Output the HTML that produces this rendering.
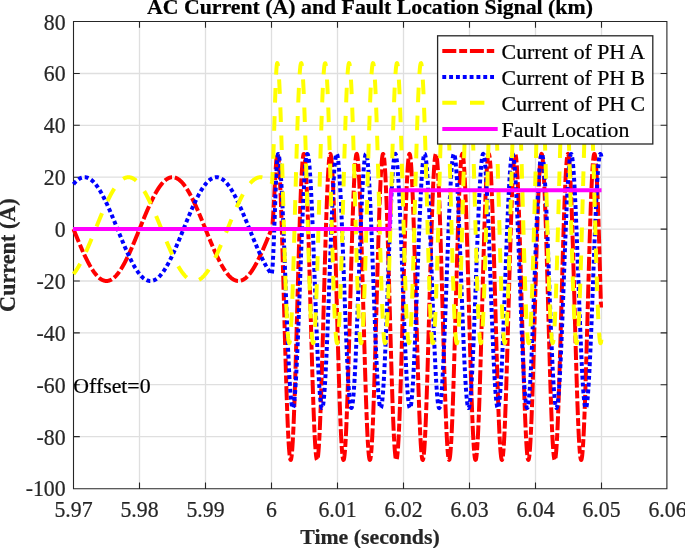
<!DOCTYPE html>
<html><head><meta charset="utf-8"><style>
html,body{margin:0;padding:0;background:#fff;overflow:hidden}
svg{display:block;will-change:transform}
text{font-family:"Liberation Serif",serif;stroke-width:0.22px}
</style></head><body>
<svg width="685" height="548" viewBox="0 0 685 548">
<rect x="0" y="0" width="685" height="548" fill="#fff"/>
<path d="M139.5 21.5V488.5 M205.5 21.5V488.5 M271.5 21.5V488.5 M337.5 21.5V488.5 M403.5 21.5V488.5 M469.5 21.5V488.5 M535.5 21.5V488.5 M601.5 21.5V488.5 M73.5 73.5H667.5 M73.5 125.3H667.5 M73.5 177.2H667.5 M73.5 229.1H667.5 M73.5 281.0H667.5 M73.5 332.9H667.5 M73.5 384.7H667.5 M73.5 436.6H667.5" stroke="#262626" stroke-opacity="0.15" stroke-width="1.3" fill="none"/>
<path d="M73.5 21.5H666.9V488.8H73.5Z M139.5 488.8v-6.3M139.5 21.5v6.3 M205.5 488.8v-6.3M205.5 21.5v6.3 M271.5 488.8v-6.3M271.5 21.5v6.3 M337.5 488.8v-6.3M337.5 21.5v6.3 M403.5 488.8v-6.3M403.5 21.5v6.3 M469.5 488.8v-6.3M469.5 21.5v6.3 M535.5 488.8v-6.3M535.5 21.5v6.3 M601.5 488.8v-6.3M601.5 21.5v6.3 M73.5 73.5h6.3M666.9 73.5h-6.3 M73.5 125.3h6.3M666.9 125.3h-6.3 M73.5 177.2h6.3M666.9 177.2h-6.3 M73.5 229.1h6.3M666.9 229.1h-6.3 M73.5 281.0h6.3M666.9 281.0h-6.3 M73.5 332.9h6.3M666.9 332.9h-6.3 M73.5 384.7h6.3M666.9 384.7h-6.3 M73.5 436.6h6.3M666.9 436.6h-6.3" stroke="#262626" stroke-width="1.1" fill="none"/>
<g fill="none" stroke-width="4" stroke-linejoin="round">
<path d="M73.50 229.10 L73.75 229.72 L74.00 230.33 L74.25 230.95 L74.50 231.57 L74.75 232.19 L75.00 232.80 L75.25 233.42 L75.50 234.03 L75.75 234.65 L76.00 235.26 L76.25 235.87 L76.50 236.48 L76.75 237.09 L77.00 237.70 L77.25 238.31 L77.50 238.92 L77.75 239.52 L78.00 240.13 L78.25 240.73 L78.50 241.33 L78.75 241.93 L79.00 242.53 L79.25 243.12 L79.50 243.72 L79.75 244.31 L80.00 244.90 L80.25 245.48 L80.50 246.07 L80.75 246.65 L81.00 247.23 L81.25 247.81 L81.50 248.38 L81.75 248.95 L82.00 249.52 L82.25 250.09 L82.50 250.65 L82.75 251.21 L83.00 251.77 L83.25 252.32 L83.50 252.87 L83.75 253.42 L84.00 253.96 L84.25 254.50 L84.50 255.04 L84.75 255.57 L85.00 256.10 L85.25 256.63 L85.50 257.15 L85.75 257.67 L86.00 258.18 L86.25 258.69 L86.50 259.19 L86.75 259.69 L87.00 260.19 L87.25 260.68 L87.50 261.17 L87.75 261.65 L88.00 262.13 L88.25 262.61 L88.50 263.07 L88.75 263.54 L89.00 264.00 L89.25 264.45 L89.50 264.90 L89.75 265.35 L90.00 265.78 L90.25 266.22 L90.50 266.65 L90.75 267.07 L91.00 267.49 L91.25 267.90 L91.50 268.31 L91.75 268.71 L92.00 269.11 L92.25 269.50 L92.50 269.88 L92.75 270.26 L93.00 270.63 L93.25 271.00 L93.50 271.36 L93.75 271.72 L94.00 272.06 L94.25 272.41 L94.50 272.74 L94.75 273.07 L95.00 273.40 L95.25 273.72 L95.50 274.03 L95.75 274.33 L96.00 274.63 L96.25 274.93 L96.50 275.21 L96.75 275.49 L97.00 275.77 L97.25 276.03 L97.50 276.29 L97.75 276.54 L98.00 276.79 L98.25 277.03 L98.50 277.26 L98.75 277.49 L99.00 277.71 L99.25 277.92 L99.50 278.13 L99.75 278.33 L100.00 278.52 L100.25 278.70 L100.50 278.88 L100.75 279.05 L101.00 279.21 L101.25 279.37 L101.50 279.52 L101.75 279.66 L102.00 279.79 L102.25 279.92 L102.50 280.04 L102.75 280.16 L103.00 280.26 L103.25 280.36 L103.50 280.45 L103.75 280.54 L104.00 280.61 L104.25 280.68 L104.50 280.75 L104.75 280.80 L105.00 280.85 L105.25 280.89 L105.50 280.92 L105.75 280.95 L106.00 280.97 L106.25 280.98 L106.50 280.98 L106.75 280.98 L107.00 280.97 L107.25 280.95 L107.50 280.92 L107.75 280.89 L108.00 280.85 L108.25 280.80 L108.50 280.75 L108.75 280.68 L109.00 280.61 L109.25 280.54 L109.50 280.45 L109.75 280.36 L110.00 280.26 L110.25 280.16 L110.50 280.04 L110.75 279.92 L111.00 279.79 L111.25 279.66 L111.50 279.52 L111.75 279.37 L112.00 279.21 L112.25 279.05 L112.50 278.88 L112.75 278.70 L113.00 278.52 L113.25 278.33 L113.50 278.13 L113.75 277.92 L114.00 277.71 L114.25 277.49 L114.50 277.26 L114.75 277.03 L115.00 276.79 L115.25 276.54 L115.50 276.29 L115.75 276.03 L116.00 275.77 L116.25 275.49 L116.50 275.21 L116.75 274.93 L117.00 274.63 L117.25 274.33 L117.50 274.03 L117.75 273.72 L118.00 273.40 L118.25 273.07 L118.50 272.74 L118.75 272.41 L119.00 272.06 L119.25 271.72 L119.50 271.36 L119.75 271.00 L120.00 270.63 L120.25 270.26 L120.50 269.88 L120.75 269.50 L121.00 269.11 L121.25 268.71 L121.50 268.31 L121.75 267.90 L122.00 267.49 L122.25 267.07 L122.50 266.65 L122.75 266.22 L123.00 265.78 L123.25 265.35 L123.50 264.90 L123.75 264.45 L124.00 264.00 L124.25 263.54 L124.50 263.07 L124.75 262.61 L125.00 262.13 L125.25 261.65 L125.50 261.17 L125.75 260.68 L126.00 260.19 L126.25 259.69 L126.50 259.19 L126.75 258.69 L127.00 258.18 L127.25 257.67 L127.50 257.15 L127.75 256.63 L128.00 256.10 L128.25 255.57 L128.50 255.04 L128.75 254.50 L129.00 253.96 L129.25 253.42 L129.50 252.87 L129.75 252.32 L130.00 251.77 L130.25 251.21 L130.50 250.65 L130.75 250.09 L131.00 249.52 L131.25 248.95 L131.50 248.38 L131.75 247.81 L132.00 247.23 L132.25 246.65 L132.50 246.07 L132.75 245.48 L133.00 244.90 L133.25 244.31 L133.50 243.72 L133.75 243.12 L134.00 242.53 L134.25 241.93 L134.50 241.33 L134.75 240.73 L135.00 240.13 L135.25 239.52 L135.50 238.92 L135.75 238.31 L136.00 237.70 L136.25 237.09 L136.50 236.48 L136.75 235.87 L137.00 235.26 L137.25 234.65 L137.50 234.03 L137.75 233.42 L138.00 232.80 L138.25 232.19 L138.50 231.57 L138.75 230.95 L139.00 230.33 L139.25 229.72 L139.50 229.10 L139.75 228.48 L140.00 227.87 L140.25 227.25 L140.50 226.63 L140.75 226.01 L141.00 225.40 L141.25 224.78 L141.50 224.17 L141.75 223.55 L142.00 222.94 L142.25 222.33 L142.50 221.72 L142.75 221.11 L143.00 220.50 L143.25 219.89 L143.50 219.28 L143.75 218.68 L144.00 218.07 L144.25 217.47 L144.50 216.87 L144.75 216.27 L145.00 215.67 L145.25 215.08 L145.50 214.48 L145.75 213.89 L146.00 213.30 L146.25 212.72 L146.50 212.13 L146.75 211.55 L147.00 210.97 L147.25 210.39 L147.50 209.82 L147.75 209.25 L148.00 208.68 L148.25 208.11 L148.50 207.55 L148.75 206.99 L149.00 206.43 L149.25 205.88 L149.50 205.33 L149.75 204.78 L150.00 204.24 L150.25 203.70 L150.50 203.16 L150.75 202.63 L151.00 202.10 L151.25 201.57 L151.50 201.05 L151.75 200.53 L152.00 200.02 L152.25 199.51 L152.50 199.01 L152.75 198.51 L153.00 198.01 L153.25 197.52 L153.50 197.03 L153.75 196.55 L154.00 196.07 L154.25 195.59 L154.50 195.13 L154.75 194.66 L155.00 194.20 L155.25 193.75 L155.50 193.30 L155.75 192.85 L156.00 192.42 L156.25 191.98 L156.50 191.55 L156.75 191.13 L157.00 190.71 L157.25 190.30 L157.50 189.89 L157.75 189.49 L158.00 189.09 L158.25 188.70 L158.50 188.32 L158.75 187.94 L159.00 187.57 L159.25 187.20 L159.50 186.84 L159.75 186.48 L160.00 186.14 L160.25 185.79 L160.50 185.46 L160.75 185.13 L161.00 184.80 L161.25 184.48 L161.50 184.17 L161.75 183.87 L162.00 183.57 L162.25 183.27 L162.50 182.99 L162.75 182.71 L163.00 182.43 L163.25 182.17 L163.50 181.91 L163.75 181.66 L164.00 181.41 L164.25 181.17 L164.50 180.94 L164.75 180.71 L165.00 180.49 L165.25 180.28 L165.50 180.07 L165.75 179.87 L166.00 179.68 L166.25 179.50 L166.50 179.32 L166.75 179.15 L167.00 178.99 L167.25 178.83 L167.50 178.68 L167.75 178.54 L168.00 178.41 L168.25 178.28 L168.50 178.16 L168.75 178.04 L169.00 177.94 L169.25 177.84 L169.50 177.75 L169.75 177.66 L170.00 177.59 L170.25 177.52 L170.50 177.45 L170.75 177.40 L171.00 177.35 L171.25 177.31 L171.50 177.28 L171.75 177.25 L172.00 177.23 L172.25 177.22 L172.50 177.22 L172.75 177.22 L173.00 177.23 L173.25 177.25 L173.50 177.28 L173.75 177.31 L174.00 177.35 L174.25 177.40 L174.50 177.45 L174.75 177.52 L175.00 177.59 L175.25 177.66 L175.50 177.75 L175.75 177.84 L176.00 177.94 L176.25 178.04 L176.50 178.16 L176.75 178.28 L177.00 178.41 L177.25 178.54 L177.50 178.68 L177.75 178.83 L178.00 178.99 L178.25 179.15 L178.50 179.32 L178.75 179.50 L179.00 179.68 L179.25 179.87 L179.50 180.07 L179.75 180.28 L180.00 180.49 L180.25 180.71 L180.50 180.94 L180.75 181.17 L181.00 181.41 L181.25 181.66 L181.50 181.91 L181.75 182.17 L182.00 182.43 L182.25 182.71 L182.50 182.99 L182.75 183.27 L183.00 183.57 L183.25 183.87 L183.50 184.17 L183.75 184.48 L184.00 184.80 L184.25 185.13 L184.50 185.46 L184.75 185.79 L185.00 186.14 L185.25 186.48 L185.50 186.84 L185.75 187.20 L186.00 187.57 L186.25 187.94 L186.50 188.32 L186.75 188.70 L187.00 189.09 L187.25 189.49 L187.50 189.89 L187.75 190.30 L188.00 190.71 L188.25 191.13 L188.50 191.55 L188.75 191.98 L189.00 192.42 L189.25 192.85 L189.50 193.30 L189.75 193.75 L190.00 194.20 L190.25 194.66 L190.50 195.13 L190.75 195.59 L191.00 196.07 L191.25 196.55 L191.50 197.03 L191.75 197.52 L192.00 198.01 L192.25 198.51 L192.50 199.01 L192.75 199.51 L193.00 200.02 L193.25 200.53 L193.50 201.05 L193.75 201.57 L194.00 202.10 L194.25 202.63 L194.50 203.16 L194.75 203.70 L195.00 204.24 L195.25 204.78 L195.50 205.33 L195.75 205.88 L196.00 206.43 L196.25 206.99 L196.50 207.55 L196.75 208.11 L197.00 208.68 L197.25 209.25 L197.50 209.82 L197.75 210.39 L198.00 210.97 L198.25 211.55 L198.50 212.13 L198.75 212.72 L199.00 213.30 L199.25 213.89 L199.50 214.48 L199.75 215.08 L200.00 215.67 L200.25 216.27 L200.50 216.87 L200.75 217.47 L201.00 218.07 L201.25 218.68 L201.50 219.28 L201.75 219.89 L202.00 220.50 L202.25 221.11 L202.50 221.72 L202.75 222.33 L203.00 222.94 L203.25 223.55 L203.50 224.17 L203.75 224.78 L204.00 225.40 L204.25 226.01 L204.50 226.63 L204.75 227.25 L205.00 227.87 L205.25 228.48 L205.50 229.10 L205.75 229.72 L206.00 230.33 L206.25 230.95 L206.50 231.57 L206.75 232.19 L207.00 232.80 L207.25 233.42 L207.50 234.03 L207.75 234.65 L208.00 235.26 L208.25 235.87 L208.50 236.48 L208.75 237.09 L209.00 237.70 L209.25 238.31 L209.50 238.92 L209.75 239.52 L210.00 240.13 L210.25 240.73 L210.50 241.33 L210.75 241.93 L211.00 242.53 L211.25 243.12 L211.50 243.72 L211.75 244.31 L212.00 244.90 L212.25 245.48 L212.50 246.07 L212.75 246.65 L213.00 247.23 L213.25 247.81 L213.50 248.38 L213.75 248.95 L214.00 249.52 L214.25 250.09 L214.50 250.65 L214.75 251.21 L215.00 251.77 L215.25 252.32 L215.50 252.87 L215.75 253.42 L216.00 253.96 L216.25 254.50 L216.50 255.04 L216.75 255.57 L217.00 256.10 L217.25 256.63 L217.50 257.15 L217.75 257.67 L218.00 258.18 L218.25 258.69 L218.50 259.19 L218.75 259.69 L219.00 260.19 L219.25 260.68 L219.50 261.17 L219.75 261.65 L220.00 262.13 L220.25 262.61 L220.50 263.07 L220.75 263.54 L221.00 264.00 L221.25 264.45 L221.50 264.90 L221.75 265.35 L222.00 265.78 L222.25 266.22 L222.50 266.65 L222.75 267.07 L223.00 267.49 L223.25 267.90 L223.50 268.31 L223.75 268.71 L224.00 269.11 L224.25 269.50 L224.50 269.88 L224.75 270.26 L225.00 270.63 L225.25 271.00 L225.50 271.36 L225.75 271.72 L226.00 272.06 L226.25 272.41 L226.50 272.74 L226.75 273.07 L227.00 273.40 L227.25 273.72 L227.50 274.03 L227.75 274.33 L228.00 274.63 L228.25 274.93 L228.50 275.21 L228.75 275.49 L229.00 275.77 L229.25 276.03 L229.50 276.29 L229.75 276.54 L230.00 276.79 L230.25 277.03 L230.50 277.26 L230.75 277.49 L231.00 277.71 L231.25 277.92 L231.50 278.13 L231.75 278.33 L232.00 278.52 L232.25 278.70 L232.50 278.88 L232.75 279.05 L233.00 279.21 L233.25 279.37 L233.50 279.52 L233.75 279.66 L234.00 279.79 L234.25 279.92 L234.50 280.04 L234.75 280.16 L235.00 280.26 L235.25 280.36 L235.50 280.45 L235.75 280.54 L236.00 280.61 L236.25 280.68 L236.50 280.75 L236.75 280.80 L237.00 280.85 L237.25 280.89 L237.50 280.92 L237.75 280.95 L238.00 280.97 L238.25 280.98 L238.50 280.98 L238.75 280.98 L239.00 280.97 L239.25 280.95 L239.50 280.92 L239.75 280.89 L240.00 280.85 L240.25 280.80 L240.50 280.75 L240.75 280.68 L241.00 280.61 L241.25 280.54 L241.50 280.45 L241.75 280.36 L242.00 280.26 L242.25 280.16 L242.50 280.04 L242.75 279.92 L243.00 279.79 L243.25 279.66 L243.50 279.52 L243.75 279.37 L244.00 279.21 L244.25 279.05 L244.50 278.88 L244.75 278.70 L245.00 278.52 L245.25 278.33 L245.50 278.13 L245.75 277.92 L246.00 277.71 L246.25 277.49 L246.50 277.26 L246.75 277.03 L247.00 276.79 L247.25 276.54 L247.50 276.29 L247.75 276.03 L248.00 275.77 L248.25 275.49 L248.50 275.21 L248.75 274.93 L249.00 274.63 L249.25 274.33 L249.50 274.03 L249.75 273.72 L250.00 273.40 L250.25 273.07 L250.50 272.74 L250.75 272.41 L251.00 272.06 L251.25 271.72 L251.50 271.36 L251.75 271.00 L252.00 270.63 L252.25 270.26 L252.50 269.88 L252.75 269.50 L253.00 269.11 L253.25 268.71 L253.50 268.31 L253.75 267.90 L254.00 267.49 L254.25 267.07 L254.50 266.65 L254.75 266.22 L255.00 265.78 L255.25 265.35 L255.50 264.90 L255.75 264.45 L256.00 264.00 L256.25 263.54 L256.50 263.07 L256.75 262.61 L257.00 262.13 L257.25 261.65 L257.50 261.17 L257.75 260.68 L258.00 260.19 L258.25 259.69 L258.50 259.19 L258.75 258.69 L259.00 258.18 L259.25 257.67 L259.50 257.15 L259.75 256.63 L260.00 256.10 L260.25 255.57 L260.50 255.04 L260.75 254.50 L261.00 253.96 L261.25 253.42 L261.50 252.87 L261.75 252.32 L262.00 251.77 L262.25 251.21 L262.50 250.65 L262.75 250.09 L263.00 249.52 L263.25 248.95 L263.50 248.38 L263.75 247.81 L264.00 247.23 L264.25 246.65 L264.50 246.07 L264.75 245.48 L265.00 244.90 L265.25 244.31 L265.50 243.72 L265.75 243.12 L266.00 242.53 L266.25 241.93 L266.50 241.33 L266.75 240.73 L267.00 240.13 L267.25 239.52 L267.50 238.92 L267.75 238.31 L268.00 237.70 L268.25 237.09 L268.50 236.48 L268.75 235.87 L269.00 235.26 L269.25 234.65 L269.50 234.03 L269.75 233.42 L270.00 232.80 L270.25 232.19 L270.50 231.57 L270.75 230.95 L271.00 230.33 L271.25 229.72 L271.50 229.10 L271.75 228.77 L272.00 227.80 L272.25 226.20 L272.50 223.99 L272.75 221.23 L273.00 217.94 L273.25 214.20 L273.50 210.06 L273.75 205.61 L274.00 200.90 L274.25 196.04 L274.50 191.09 L274.75 186.15 L275.00 181.31 L275.25 176.64 L275.50 172.22 L275.75 168.15 L276.00 164.47 L276.25 161.27 L276.50 158.59 L276.75 156.48 L277.00 154.97 L277.25 154.10 L277.50 153.88 L277.75 154.24 L278.00 155.14 L278.25 156.57 L278.50 158.53 L278.75 161.03 L279.00 164.03 L279.25 167.54 L279.50 171.55 L279.75 176.03 L280.00 180.98 L280.25 186.37 L280.50 192.19 L280.75 198.41 L281.00 205.02 L281.25 211.99 L281.50 219.29 L281.75 226.90 L282.00 234.80 L282.25 242.95 L282.50 251.33 L282.75 259.90 L283.00 268.64 L283.25 277.52 L283.50 286.50 L283.75 295.55 L284.00 304.64 L284.25 313.74 L284.50 322.82 L284.75 331.84 L285.00 340.77 L285.25 349.59 L285.50 358.25 L285.75 366.73 L286.00 374.99 L286.25 383.02 L286.50 390.78 L286.75 398.24 L287.00 405.38 L287.25 412.17 L287.50 418.59 L287.75 424.61 L288.00 430.22 L288.25 435.39 L288.50 440.11 L288.75 444.36 L289.00 448.11 L289.25 451.38 L289.50 454.13 L289.75 456.35 L290.00 458.05 L290.25 459.22 L290.50 459.85 L290.75 459.93 L291.00 459.48 L291.25 458.49 L291.50 456.96 L291.75 454.90 L292.00 452.31 L292.25 449.21 L292.50 445.61 L292.75 441.52 L293.00 436.95 L293.25 431.92 L293.50 426.45 L293.75 420.56 L294.00 414.27 L294.25 407.59 L294.50 400.56 L294.75 393.20 L295.00 385.54 L295.25 377.59 L295.50 369.40 L295.75 360.98 L296.00 352.37 L296.25 343.61 L296.50 334.71 L296.75 325.72 L297.00 316.65 L297.25 307.56 L297.50 298.46 L297.75 289.39 L298.00 280.38 L298.25 271.47 L298.50 262.68 L298.75 254.05 L299.00 245.61 L299.25 237.38 L299.50 229.40 L299.75 221.69 L300.00 214.29 L300.25 207.21 L300.50 200.48 L300.75 194.14 L301.00 188.19 L301.25 182.66 L301.50 177.56 L301.75 172.93 L302.00 168.77 L302.25 165.10 L302.50 161.93 L302.75 159.28 L303.00 157.14 L303.25 155.54 L303.50 154.47 L303.75 153.94 L304.00 153.95 L304.25 154.50 L304.50 155.59 L304.75 157.22 L305.00 159.37 L305.25 162.05 L305.50 165.24 L305.75 168.93 L306.00 173.11 L306.25 177.76 L306.50 182.87 L306.75 188.42 L307.00 194.38 L307.25 200.75 L307.50 207.49 L307.75 214.58 L308.00 222.00 L308.25 229.71 L308.50 237.71 L308.75 245.94 L309.00 254.39 L309.25 263.03 L309.50 271.83 L309.75 280.74 L310.00 289.75 L310.25 298.82 L310.50 307.92 L310.75 317.02 L311.00 326.08 L311.25 335.07 L311.50 343.96 L311.75 352.72 L312.00 361.32 L312.25 369.73 L312.50 377.91 L312.75 385.85 L313.00 393.50 L313.25 400.85 L313.50 407.87 L313.75 414.53 L314.00 420.81 L314.25 426.68 L314.50 432.13 L314.75 437.14 L315.00 441.69 L315.25 445.77 L315.50 449.35 L315.75 452.42 L316.00 454.99 L316.25 457.03 L316.50 458.54 L316.75 459.51 L317.00 459.94 L317.25 459.83 L317.50 459.18 L317.75 458.00 L318.00 456.27 L318.25 454.02 L318.50 451.25 L318.75 447.97 L319.00 444.19 L319.25 439.93 L319.50 435.19 L319.75 430.01 L320.00 424.38 L320.25 418.34 L320.50 411.91 L320.75 405.10 L321.00 397.95 L321.25 390.48 L321.50 382.71 L321.75 374.67 L322.00 366.39 L322.25 357.90 L322.50 349.24 L322.75 340.42 L323.00 331.48 L323.25 322.46 L323.50 313.38 L323.75 304.28 L324.00 295.19 L324.25 286.14 L324.50 277.16 L324.75 268.29 L325.00 259.56 L325.25 250.99 L325.50 242.62 L325.75 234.48 L326.00 226.59 L326.25 218.99 L326.50 211.70 L326.75 204.75 L327.00 198.15 L327.25 191.95 L327.50 186.15 L327.75 180.77 L328.00 175.84 L328.25 171.38 L328.50 167.39 L328.75 163.90 L329.00 160.92 L329.25 158.45 L329.50 156.50 L329.75 155.09 L330.00 154.21 L330.25 153.88 L330.50 154.08 L330.75 154.83 L331.00 156.11 L331.25 157.93 L331.50 160.28 L331.75 163.14 L332.00 166.51 L332.25 170.38 L332.50 174.73 L332.75 179.55 L333.00 184.82 L333.25 190.52 L333.50 196.63 L333.75 203.13 L334.00 210.00 L334.25 217.21 L334.50 224.74 L334.75 232.56 L335.00 240.64 L335.25 248.96 L335.50 257.48 L335.75 266.18 L336.00 275.02 L336.25 283.98 L336.50 293.01 L336.75 302.10 L337.00 311.20 L337.25 320.28 L337.50 329.32 L337.75 338.28 L338.00 347.13 L338.25 355.84 L338.50 364.37 L338.75 372.70 L339.00 380.80 L339.25 388.64 L339.50 396.18 L339.75 403.42 L340.00 410.31 L340.25 416.83 L340.50 422.97 L340.75 428.69 L341.00 433.99 L341.25 438.84 L341.50 443.21 L341.75 447.11 L342.00 450.51 L342.25 453.41 L342.50 455.78 L342.75 457.63 L343.00 458.95 L343.25 459.73 L343.50 459.97 L343.75 459.66 L344.00 458.82 L344.25 457.44 L344.50 455.53 L344.75 453.09 L345.00 450.13 L345.25 446.67 L345.50 442.71 L345.75 438.28 L346.00 433.38 L346.25 428.03 L346.50 422.25 L346.75 416.07 L347.00 409.50 L347.25 402.57 L347.50 395.29 L347.75 387.71 L348.00 379.84 L348.25 371.71 L348.50 363.36 L348.75 354.80 L349.00 346.08 L349.25 337.21 L349.50 328.24 L349.75 319.20 L350.00 310.11 L350.25 301.00 L350.50 291.92 L350.75 282.90 L351.00 273.96 L351.25 265.13 L351.50 256.45 L351.75 247.95 L352.00 239.66 L352.25 231.61 L352.50 223.82 L352.75 216.33 L353.00 209.16 L353.25 202.33 L353.50 195.87 L353.75 189.81 L354.00 184.16 L354.25 178.94 L354.50 174.18 L354.75 169.89 L355.00 166.08 L355.25 162.77 L355.50 159.97 L355.75 157.69 L356.00 155.93 L356.25 154.71 L356.50 154.03 L356.75 153.89 L357.00 154.29 L357.25 155.23 L357.50 156.71 L357.75 158.71 L358.00 161.25 L358.25 164.29 L358.50 167.85 L358.75 171.89 L359.00 176.41 L359.25 181.39 L359.50 186.82 L359.75 192.67 L360.00 198.93 L360.25 205.56 L360.50 212.56 L360.75 219.89 L361.00 227.52 L361.25 235.44 L361.50 243.61 L361.75 252.01 L362.00 260.60 L362.25 269.35 L362.50 278.23 L362.75 287.22 L363.00 296.28 L363.25 305.37 L363.50 314.47 L363.75 323.55 L364.00 332.56 L364.25 341.48 L364.50 350.28 L364.75 358.93 L365.00 367.40 L365.25 375.65 L365.50 383.65 L365.75 391.39 L366.00 398.83 L366.25 405.94 L366.50 412.70 L366.75 419.09 L367.00 425.08 L367.25 430.65 L367.50 435.79 L367.75 440.47 L368.00 444.67 L368.25 448.39 L368.50 451.61 L368.75 454.32 L369.00 456.51 L369.25 458.17 L369.50 459.29 L369.75 459.87 L370.00 459.92 L370.25 459.42 L370.50 458.38 L370.75 456.81 L371.00 454.71 L371.25 452.08 L371.50 448.94 L371.75 445.30 L372.00 441.17 L372.25 436.57 L372.50 431.50 L372.75 426.00 L373.00 420.07 L373.25 413.75 L373.50 407.04 L373.75 399.99 L374.00 392.60 L374.25 384.91 L374.50 376.94 L374.75 368.73 L375.00 360.30 L375.25 351.68 L375.50 342.90 L375.75 333.99 L376.00 324.99 L376.25 315.93 L376.50 306.83 L376.75 297.73 L377.00 288.67 L377.25 279.67 L377.50 270.76 L377.75 261.99 L378.00 253.37 L378.25 244.94 L378.50 236.73 L378.75 228.77 L379.00 221.09 L379.25 213.71 L379.50 206.66 L379.75 199.96 L380.00 193.64 L380.25 187.73 L380.50 182.23 L380.75 177.18 L381.00 172.58 L381.25 168.46 L381.50 164.83 L381.75 161.70 L382.00 159.08 L382.25 156.99 L382.50 155.43 L382.75 154.40 L383.00 153.92 L383.25 153.97 L383.50 154.57 L383.75 155.70 L384.00 157.37 L384.25 159.57 L384.50 162.29 L384.75 165.52 L385.00 169.25 L385.25 173.46 L385.50 178.15 L385.75 183.30 L386.00 188.88 L386.25 194.88 L386.50 201.27 L386.75 208.04 L387.00 215.16 L387.25 222.60 L387.50 230.34 L387.75 238.36 L388.00 246.61 L388.25 255.08 L388.50 263.73 L388.75 272.53 L389.00 281.46 L389.25 290.48 L389.50 299.55 L389.75 308.65 L390.00 317.74 L390.25 326.80 L390.50 335.78 L390.75 344.67 L391.00 353.42 L391.25 362.00 L391.50 370.39 L391.75 378.56 L392.00 386.47 L392.25 394.10 L392.50 401.42 L392.75 408.41 L393.00 415.04 L393.25 421.29 L393.50 427.13 L393.75 432.55 L394.00 437.52 L394.25 442.04 L394.50 446.07 L394.75 449.61 L395.00 452.65 L395.25 455.17 L395.50 457.17 L395.75 458.63 L396.00 459.56 L396.25 459.95 L396.50 459.80 L396.75 459.11 L397.00 457.88 L397.25 456.11 L397.50 453.82 L397.75 451.01 L398.00 447.69 L398.25 443.87 L398.50 439.57 L398.75 434.80 L399.00 429.57 L399.25 423.91 L399.50 417.84 L399.75 411.38 L400.00 404.54 L400.25 397.36 L400.50 389.86 L400.75 382.07 L401.00 374.01 L401.25 365.72 L401.50 357.22 L401.75 348.54 L402.00 339.71 L402.25 330.76 L402.50 321.73 L402.75 312.65 L403.00 303.55 L403.25 294.46 L403.50 285.42 L403.75 276.45 L404.00 267.59 L404.25 258.86 L404.50 250.31 L404.75 241.96 L405.00 233.84 L405.25 225.97 L405.50 218.40 L405.75 211.13 L406.00 204.21 L406.25 197.64 L406.50 191.47 L406.75 185.70 L407.00 180.36 L407.25 175.47 L407.50 171.04 L407.75 167.10 L408.00 163.64 L408.25 160.70 L408.50 158.27 L408.75 156.37 L409.00 155.00 L409.25 154.17 L409.50 153.87 L409.75 154.12 L410.00 154.91 L410.25 156.24 L410.50 158.10 L410.75 160.49 L411.00 163.39 L411.25 166.80 L411.50 170.71 L411.75 175.10 L412.00 179.95 L412.25 185.26 L412.50 190.99 L412.75 197.13 L413.00 203.67 L413.25 210.56 L413.50 217.80 L413.75 225.36 L414.00 233.20 L414.25 241.30 L414.50 249.64 L414.75 258.17 L415.00 266.88 L415.25 275.74 L415.50 284.70 L415.75 293.74 L416.00 302.82 L416.25 311.93 L416.50 321.01 L416.75 330.04 L417.00 339.00 L417.25 347.83 L417.50 356.53 L417.75 365.05 L418.00 373.36 L418.25 381.44 L418.50 389.25 L418.75 396.78 L419.00 403.98 L419.25 410.84 L419.50 417.34 L419.75 423.44 L420.00 429.13 L420.25 434.39 L420.50 439.20 L420.75 443.54 L421.00 447.40 L421.25 450.76 L421.50 453.62 L421.75 455.95 L422.00 457.76 L422.25 459.03 L422.50 459.77 L422.75 459.96 L423.00 459.61 L423.25 458.73 L423.50 457.30 L423.75 455.35 L424.00 452.87 L424.25 449.87 L424.50 446.37 L424.75 442.38 L425.00 437.90 L425.25 432.97 L425.50 427.58 L425.75 421.77 L426.00 415.56 L426.25 408.96 L426.50 402.00 L426.75 394.70 L427.00 387.09 L427.25 379.20 L427.50 371.05 L427.75 362.68 L428.00 354.11 L428.25 345.37 L428.50 336.50 L428.75 327.52 L429.00 318.47 L429.25 309.38 L429.50 300.28 L429.75 291.20 L430.00 282.18 L430.25 273.24 L430.50 264.43 L430.75 255.76 L431.00 247.28 L431.25 239.01 L431.50 230.98 L431.75 223.21 L432.00 215.74 L432.25 208.60 L432.50 201.80 L432.75 195.37 L433.00 189.34 L433.25 183.73 L433.50 178.55 L433.75 173.82 L434.00 169.57 L434.25 165.80 L434.50 162.52 L434.75 159.76 L435.00 157.53 L435.25 155.81 L435.50 154.64 L435.75 154.00 L436.00 153.90 L436.25 154.35 L436.50 155.33 L436.75 156.85 L437.00 158.90 L437.25 161.47 L437.50 164.56 L437.75 168.15 L438.00 172.23 L438.25 176.79 L438.50 181.81 L438.75 187.27 L439.00 193.16 L439.25 199.44 L439.50 206.11 L439.75 213.13 L440.00 220.49 L440.25 228.15 L440.50 236.09 L440.75 244.28 L441.00 252.69 L441.25 261.29 L441.50 270.06 L441.75 278.95 L442.00 287.94 L442.25 297.00 L442.50 306.10 L442.75 315.20 L443.00 324.27 L443.25 333.28 L443.50 342.19 L443.75 350.98 L444.00 359.62 L444.25 368.06 L444.50 376.30 L444.75 384.28 L445.00 392.00 L445.25 399.41 L445.50 406.49 L445.75 413.22 L446.00 419.58 L446.25 425.54 L446.50 431.08 L446.75 436.18 L447.00 440.82 L447.25 444.99 L447.50 448.67 L447.75 451.85 L448.00 454.52 L448.25 456.66 L448.50 458.28 L448.75 459.36 L449.00 459.90 L449.25 459.90 L449.50 459.36 L449.75 458.28 L450.00 456.66 L450.25 454.52 L450.50 451.85 L450.75 448.67 L451.00 444.99 L451.25 440.82 L451.50 436.18 L451.75 431.08 L452.00 425.54 L452.25 419.58 L452.50 413.22 L452.75 406.49 L453.00 399.41 L453.25 392.00 L453.50 384.28 L453.75 376.30 L454.00 368.06 L454.25 359.62 L454.50 350.98 L454.75 342.19 L455.00 333.28 L455.25 324.27 L455.50 315.20 L455.75 306.10 L456.00 297.00 L456.25 287.94 L456.50 278.95 L456.75 270.06 L457.00 261.29 L457.25 252.69 L457.50 244.28 L457.75 236.09 L458.00 228.15 L458.25 220.49 L458.50 213.13 L458.75 206.11 L459.00 199.44 L459.25 193.16 L459.50 187.27 L459.75 181.81 L460.00 176.79 L460.25 172.23 L460.50 168.15 L460.75 164.56 L461.00 161.47 L461.25 158.90 L461.50 156.85 L461.75 155.33 L462.00 154.35 L462.25 153.90 L462.50 154.00 L462.75 154.64 L463.00 155.81 L463.25 157.53 L463.50 159.76 L463.75 162.52 L464.00 165.80 L464.25 169.57 L464.50 173.82 L464.75 178.55 L465.00 183.73 L465.25 189.34 L465.50 195.37 L465.75 201.80 L466.00 208.60 L466.25 215.74 L466.50 223.21 L466.75 230.98 L467.00 239.01 L467.25 247.28 L467.50 255.76 L467.75 264.43 L468.00 273.24 L468.25 282.18 L468.50 291.20 L468.75 300.28 L469.00 309.38 L469.25 318.47 L469.50 327.52 L469.75 336.50 L470.00 345.37 L470.25 354.11 L470.50 362.68 L470.75 371.05 L471.00 379.20 L471.25 387.09 L471.50 394.70 L471.75 402.00 L472.00 408.96 L472.25 415.56 L472.50 421.77 L472.75 427.58 L473.00 432.97 L473.25 437.90 L473.50 442.38 L473.75 446.37 L474.00 449.87 L474.25 452.87 L474.50 455.35 L474.75 457.30 L475.00 458.73 L475.25 459.61 L475.50 459.96 L475.75 459.77 L476.00 459.03 L476.25 457.76 L476.50 455.95 L476.75 453.62 L477.00 450.76 L477.25 447.40 L477.50 443.54 L477.75 439.20 L478.00 434.39 L478.25 429.13 L478.50 423.44 L478.75 417.34 L479.00 410.84 L479.25 403.98 L479.50 396.78 L479.75 389.25 L480.00 381.44 L480.25 373.36 L480.50 365.05 L480.75 356.53 L481.00 347.83 L481.25 339.00 L481.50 330.04 L481.75 321.01 L482.00 311.93 L482.25 302.82 L482.50 293.74 L482.75 284.70 L483.00 275.74 L483.25 266.88 L483.50 258.17 L483.75 249.64 L484.00 241.30 L484.25 233.20 L484.50 225.36 L484.75 217.80 L485.00 210.56 L485.25 203.67 L485.50 197.13 L485.75 190.99 L486.00 185.26 L486.25 179.95 L486.50 175.10 L486.75 170.71 L487.00 166.80 L487.25 163.39 L487.50 160.49 L487.75 158.10 L488.00 156.24 L488.25 154.91 L488.50 154.12 L488.75 153.87 L489.00 154.17 L489.25 155.00 L489.50 156.37 L489.75 158.27 L490.00 160.70 L490.25 163.64 L490.50 167.10 L490.75 171.04 L491.00 175.47 L491.25 180.36 L491.50 185.70 L491.75 191.47 L492.00 197.64 L492.25 204.21 L492.50 211.13 L492.75 218.40 L493.00 225.97 L493.25 233.84 L493.50 241.96 L493.75 250.31 L494.00 258.86 L494.25 267.59 L494.50 276.45 L494.75 285.42 L495.00 294.46 L495.25 303.55 L495.50 312.65 L495.75 321.73 L496.00 330.76 L496.25 339.71 L496.50 348.54 L496.75 357.22 L497.00 365.72 L497.25 374.01 L497.50 382.07 L497.75 389.86 L498.00 397.36 L498.25 404.54 L498.50 411.38 L498.75 417.84 L499.00 423.91 L499.25 429.57 L499.50 434.80 L499.75 439.57 L500.00 443.87 L500.25 447.69 L500.50 451.01 L500.75 453.82 L501.00 456.11 L501.25 457.88 L501.50 459.11 L501.75 459.80 L502.00 459.95 L502.25 459.56 L502.50 458.63 L502.75 457.17 L503.00 455.17 L503.25 452.65 L503.50 449.61 L503.75 446.07 L504.00 442.04 L504.25 437.52 L504.50 432.55 L504.75 427.13 L505.00 421.29 L505.25 415.04 L505.50 408.41 L505.75 401.42 L506.00 394.10 L506.25 386.47 L506.50 378.56 L506.75 370.39 L507.00 362.00 L507.25 353.42 L507.50 344.67 L507.75 335.78 L508.00 326.80 L508.25 317.74 L508.50 308.65 L508.75 299.55 L509.00 290.48 L509.25 281.46 L509.50 272.53 L509.75 263.73 L510.00 255.08 L510.25 246.61 L510.50 238.36 L510.75 230.34 L511.00 222.60 L511.25 215.16 L511.50 208.04 L511.75 201.27 L512.00 194.88 L512.25 188.88 L512.50 183.30 L512.75 178.15 L513.00 173.46 L513.25 169.25 L513.50 165.52 L513.75 162.29 L514.00 159.57 L514.25 157.37 L514.50 155.70 L514.75 154.57 L515.00 153.97 L515.25 153.92 L515.50 154.40 L515.75 155.43 L516.00 156.99 L516.25 159.08 L516.50 161.70 L516.75 164.83 L517.00 168.46 L517.25 172.58 L517.50 177.18 L517.75 182.23 L518.00 187.73 L518.25 193.64 L518.50 199.96 L518.75 206.66 L519.00 213.71 L519.25 221.09 L519.50 228.77 L519.75 236.73 L520.00 244.94 L520.25 253.37 L520.50 261.99 L520.75 270.76 L521.00 279.67 L521.25 288.67 L521.50 297.73 L521.75 306.83 L522.00 315.93 L522.25 324.99 L522.50 333.99 L522.75 342.90 L523.00 351.68 L523.25 360.30 L523.50 368.73 L523.75 376.94 L524.00 384.91 L524.25 392.60 L524.50 399.99 L524.75 407.04 L525.00 413.75 L525.25 420.07 L525.50 426.00 L525.75 431.50 L526.00 436.57 L526.25 441.17 L526.50 445.30 L526.75 448.94 L527.00 452.08 L527.25 454.71 L527.50 456.81 L527.75 458.38 L528.00 459.42 L528.25 459.92 L528.50 459.87 L528.75 459.29 L529.00 458.17 L529.25 456.51 L529.50 454.32 L529.75 451.61 L530.00 448.39 L530.25 444.67 L530.50 440.47 L530.75 435.79 L531.00 430.65 L531.25 425.08 L531.50 419.09 L531.75 412.70 L532.00 405.94 L532.25 398.83 L532.50 391.39 L532.75 383.65 L533.00 375.65 L533.25 367.40 L533.50 358.93 L533.75 350.28 L534.00 341.48 L534.25 332.56 L534.50 323.55 L534.75 314.47 L535.00 305.37 L535.25 296.28 L535.50 287.22 L535.75 278.23 L536.00 269.35 L536.25 260.60 L536.50 252.01 L536.75 243.61 L537.00 235.44 L537.25 227.52 L537.50 219.89 L537.75 212.56 L538.00 205.56 L538.25 198.93 L538.50 192.67 L538.75 186.82 L539.00 181.39 L539.25 176.41 L539.50 171.89 L539.75 167.85 L540.00 164.29 L540.25 161.25 L540.50 158.71 L540.75 156.71 L541.00 155.23 L541.25 154.29 L541.50 153.89 L541.75 154.03 L542.00 154.71 L542.25 155.93 L542.50 157.69 L542.75 159.97 L543.00 162.77 L543.25 166.08 L543.50 169.89 L543.75 174.18 L544.00 178.94 L544.25 184.16 L544.50 189.81 L544.75 195.87 L545.00 202.33 L545.25 209.16 L545.50 216.33 L545.75 223.82 L546.00 231.61 L546.25 239.66 L546.50 247.95 L546.75 256.45 L547.00 265.13 L547.25 273.96 L547.50 282.90 L547.75 291.92 L548.00 301.00 L548.25 310.11 L548.50 319.20 L548.75 328.24 L549.00 337.21 L549.25 346.08 L549.50 354.80 L549.75 363.36 L550.00 371.71 L550.25 379.84 L550.50 387.71 L550.75 395.29 L551.00 402.57 L551.25 409.50 L551.50 416.07 L551.75 422.25 L552.00 428.03 L552.25 433.38 L552.50 438.28 L552.75 442.71 L553.00 446.67 L553.25 450.13 L553.50 453.09 L553.75 455.53 L554.00 457.44 L554.25 458.82 L554.50 459.66 L554.75 459.97 L555.00 459.73 L555.25 458.95 L555.50 457.63 L555.75 455.78 L556.00 453.41 L556.25 450.51 L556.50 447.11 L556.75 443.21 L557.00 438.84 L557.25 433.99 L557.50 428.69 L557.75 422.97 L558.00 416.83 L558.25 410.31 L558.50 403.42 L558.75 396.18 L559.00 388.64 L559.25 380.80 L559.50 372.70 L559.75 364.37 L560.00 355.84 L560.25 347.13 L560.50 338.28 L560.75 329.32 L561.00 320.28 L561.25 311.20 L561.50 302.10 L561.75 293.01 L562.00 283.98 L562.25 275.02 L562.50 266.18 L562.75 257.48 L563.00 248.96 L563.25 240.64 L563.50 232.56 L563.75 224.74 L564.00 217.21 L564.25 210.00 L564.50 203.13 L564.75 196.63 L565.00 190.52 L565.25 184.82 L565.50 179.55 L565.75 174.73 L566.00 170.38 L566.25 166.51 L566.50 163.14 L566.75 160.28 L567.00 157.93 L567.25 156.11 L567.50 154.83 L567.75 154.08 L568.00 153.88 L568.25 154.21 L568.50 155.09 L568.75 156.50 L569.00 158.45 L569.25 160.92 L569.50 163.90 L569.75 167.39 L570.00 171.38 L570.25 175.84 L570.50 180.77 L570.75 186.15 L571.00 191.95 L571.25 198.15 L571.50 204.75 L571.75 211.70 L572.00 218.99 L572.25 226.59 L572.50 234.48 L572.75 242.62 L573.00 250.99 L573.25 259.56 L573.50 268.29 L573.75 277.16 L574.00 286.14 L574.25 295.19 L574.50 304.28 L574.75 313.38 L575.00 322.46 L575.25 331.48 L575.50 340.42 L575.75 349.24 L576.00 357.90 L576.25 366.39 L576.50 374.67 L576.75 382.71 L577.00 390.48 L577.25 397.95 L577.50 405.10 L577.75 411.91 L578.00 418.34 L578.25 424.38 L578.50 430.01 L578.75 435.19 L579.00 439.93 L579.25 444.19 L579.50 447.97 L579.75 451.25 L580.00 454.02 L580.25 456.27 L580.50 458.00 L580.75 459.18 L581.00 459.83 L581.25 459.94 L581.50 459.51 L581.75 458.54 L582.00 457.03 L582.25 454.99 L582.50 452.42 L582.75 449.35 L583.00 445.77 L583.25 441.69 L583.50 437.14 L583.75 432.13 L584.00 426.68 L584.25 420.81 L584.50 414.53 L584.75 407.87 L585.00 400.85 L585.25 393.50 L585.50 385.85 L585.75 377.91 L586.00 369.73 L586.25 361.32 L586.50 352.72 L586.75 343.96 L587.00 335.07 L587.25 326.08 L587.50 317.02 L587.75 307.92 L588.00 298.82 L588.25 289.75 L588.50 280.74 L588.75 271.83 L589.00 263.03 L589.25 254.39 L589.50 245.94 L589.75 237.71 L590.00 229.71 L590.25 222.00 L590.50 214.58 L590.75 207.49 L591.00 200.75 L591.25 194.38 L591.50 188.42 L591.75 182.87 L592.00 177.76 L592.25 173.11 L592.50 168.93 L592.75 165.24 L593.00 162.05 L593.25 159.37 L593.50 157.22 L593.75 155.59 L594.00 154.50 L594.25 153.95 L594.50 153.94 L594.75 154.47 L595.00 155.54 L595.25 157.14 L595.50 159.28 L595.75 161.93 L596.00 165.10 L596.25 168.77 L596.50 172.93 L596.75 177.56 L597.00 182.66 L597.25 188.19 L597.50 194.14 L597.75 200.48 L598.00 207.21 L598.25 214.29 L598.50 221.69 L598.75 229.40 L599.00 237.38 L599.25 245.61 L599.50 254.05 L599.75 262.68 L600.00 271.47 L600.25 280.38 L600.50 289.39 L600.75 298.46 L601.00 307.56" stroke="#ff0000" stroke-dasharray="14 2.9 7.9 2.8"/>
<path d="M73.50 184.17 L73.75 183.87 L74.00 183.57 L74.25 183.27 L74.50 182.99 L74.75 182.71 L75.00 182.43 L75.25 182.17 L75.50 181.91 L75.75 181.66 L76.00 181.41 L76.25 181.17 L76.50 180.94 L76.75 180.71 L77.00 180.49 L77.25 180.28 L77.50 180.07 L77.75 179.87 L78.00 179.68 L78.25 179.50 L78.50 179.32 L78.75 179.15 L79.00 178.99 L79.25 178.83 L79.50 178.68 L79.75 178.54 L80.00 178.41 L80.25 178.28 L80.50 178.16 L80.75 178.04 L81.00 177.94 L81.25 177.84 L81.50 177.75 L81.75 177.66 L82.00 177.59 L82.25 177.52 L82.50 177.45 L82.75 177.40 L83.00 177.35 L83.25 177.31 L83.50 177.28 L83.75 177.25 L84.00 177.23 L84.25 177.22 L84.50 177.22 L84.75 177.22 L85.00 177.23 L85.25 177.25 L85.50 177.28 L85.75 177.31 L86.00 177.35 L86.25 177.40 L86.50 177.45 L86.75 177.52 L87.00 177.59 L87.25 177.66 L87.50 177.75 L87.75 177.84 L88.00 177.94 L88.25 178.04 L88.50 178.16 L88.75 178.28 L89.00 178.41 L89.25 178.54 L89.50 178.68 L89.75 178.83 L90.00 178.99 L90.25 179.15 L90.50 179.32 L90.75 179.50 L91.00 179.68 L91.25 179.87 L91.50 180.07 L91.75 180.28 L92.00 180.49 L92.25 180.71 L92.50 180.94 L92.75 181.17 L93.00 181.41 L93.25 181.66 L93.50 181.91 L93.75 182.17 L94.00 182.43 L94.25 182.71 L94.50 182.99 L94.75 183.27 L95.00 183.57 L95.25 183.87 L95.50 184.17 L95.75 184.48 L96.00 184.80 L96.25 185.13 L96.50 185.46 L96.75 185.79 L97.00 186.14 L97.25 186.48 L97.50 186.84 L97.75 187.20 L98.00 187.57 L98.25 187.94 L98.50 188.32 L98.75 188.70 L99.00 189.09 L99.25 189.49 L99.50 189.89 L99.75 190.30 L100.00 190.71 L100.25 191.13 L100.50 191.55 L100.75 191.98 L101.00 192.42 L101.25 192.85 L101.50 193.30 L101.75 193.75 L102.00 194.20 L102.25 194.66 L102.50 195.13 L102.75 195.59 L103.00 196.07 L103.25 196.55 L103.50 197.03 L103.75 197.52 L104.00 198.01 L104.25 198.51 L104.50 199.01 L104.75 199.51 L105.00 200.02 L105.25 200.53 L105.50 201.05 L105.75 201.57 L106.00 202.10 L106.25 202.63 L106.50 203.16 L106.75 203.70 L107.00 204.24 L107.25 204.78 L107.50 205.33 L107.75 205.88 L108.00 206.43 L108.25 206.99 L108.50 207.55 L108.75 208.11 L109.00 208.68 L109.25 209.25 L109.50 209.82 L109.75 210.39 L110.00 210.97 L110.25 211.55 L110.50 212.13 L110.75 212.72 L111.00 213.30 L111.25 213.89 L111.50 214.48 L111.75 215.08 L112.00 215.67 L112.25 216.27 L112.50 216.87 L112.75 217.47 L113.00 218.07 L113.25 218.68 L113.50 219.28 L113.75 219.89 L114.00 220.50 L114.25 221.11 L114.50 221.72 L114.75 222.33 L115.00 222.94 L115.25 223.55 L115.50 224.17 L115.75 224.78 L116.00 225.40 L116.25 226.01 L116.50 226.63 L116.75 227.25 L117.00 227.87 L117.25 228.48 L117.50 229.10 L117.75 229.72 L118.00 230.33 L118.25 230.95 L118.50 231.57 L118.75 232.19 L119.00 232.80 L119.25 233.42 L119.50 234.03 L119.75 234.65 L120.00 235.26 L120.25 235.87 L120.50 236.48 L120.75 237.09 L121.00 237.70 L121.25 238.31 L121.50 238.92 L121.75 239.52 L122.00 240.13 L122.25 240.73 L122.50 241.33 L122.75 241.93 L123.00 242.53 L123.25 243.12 L123.50 243.72 L123.75 244.31 L124.00 244.90 L124.25 245.48 L124.50 246.07 L124.75 246.65 L125.00 247.23 L125.25 247.81 L125.50 248.38 L125.75 248.95 L126.00 249.52 L126.25 250.09 L126.50 250.65 L126.75 251.21 L127.00 251.77 L127.25 252.32 L127.50 252.87 L127.75 253.42 L128.00 253.96 L128.25 254.50 L128.50 255.04 L128.75 255.57 L129.00 256.10 L129.25 256.63 L129.50 257.15 L129.75 257.67 L130.00 258.18 L130.25 258.69 L130.50 259.19 L130.75 259.69 L131.00 260.19 L131.25 260.68 L131.50 261.17 L131.75 261.65 L132.00 262.13 L132.25 262.61 L132.50 263.07 L132.75 263.54 L133.00 264.00 L133.25 264.45 L133.50 264.90 L133.75 265.35 L134.00 265.78 L134.25 266.22 L134.50 266.65 L134.75 267.07 L135.00 267.49 L135.25 267.90 L135.50 268.31 L135.75 268.71 L136.00 269.11 L136.25 269.50 L136.50 269.88 L136.75 270.26 L137.00 270.63 L137.25 271.00 L137.50 271.36 L137.75 271.72 L138.00 272.06 L138.25 272.41 L138.50 272.74 L138.75 273.07 L139.00 273.40 L139.25 273.72 L139.50 274.03 L139.75 274.33 L140.00 274.63 L140.25 274.93 L140.50 275.21 L140.75 275.49 L141.00 275.77 L141.25 276.03 L141.50 276.29 L141.75 276.54 L142.00 276.79 L142.25 277.03 L142.50 277.26 L142.75 277.49 L143.00 277.71 L143.25 277.92 L143.50 278.13 L143.75 278.33 L144.00 278.52 L144.25 278.70 L144.50 278.88 L144.75 279.05 L145.00 279.21 L145.25 279.37 L145.50 279.52 L145.75 279.66 L146.00 279.79 L146.25 279.92 L146.50 280.04 L146.75 280.16 L147.00 280.26 L147.25 280.36 L147.50 280.45 L147.75 280.54 L148.00 280.61 L148.25 280.68 L148.50 280.75 L148.75 280.80 L149.00 280.85 L149.25 280.89 L149.50 280.92 L149.75 280.95 L150.00 280.97 L150.25 280.98 L150.50 280.98 L150.75 280.98 L151.00 280.97 L151.25 280.95 L151.50 280.92 L151.75 280.89 L152.00 280.85 L152.25 280.80 L152.50 280.75 L152.75 280.68 L153.00 280.61 L153.25 280.54 L153.50 280.45 L153.75 280.36 L154.00 280.26 L154.25 280.16 L154.50 280.04 L154.75 279.92 L155.00 279.79 L155.25 279.66 L155.50 279.52 L155.75 279.37 L156.00 279.21 L156.25 279.05 L156.50 278.88 L156.75 278.70 L157.00 278.52 L157.25 278.33 L157.50 278.13 L157.75 277.92 L158.00 277.71 L158.25 277.49 L158.50 277.26 L158.75 277.03 L159.00 276.79 L159.25 276.54 L159.50 276.29 L159.75 276.03 L160.00 275.77 L160.25 275.49 L160.50 275.21 L160.75 274.93 L161.00 274.63 L161.25 274.33 L161.50 274.03 L161.75 273.72 L162.00 273.40 L162.25 273.07 L162.50 272.74 L162.75 272.41 L163.00 272.06 L163.25 271.72 L163.50 271.36 L163.75 271.00 L164.00 270.63 L164.25 270.26 L164.50 269.88 L164.75 269.50 L165.00 269.11 L165.25 268.71 L165.50 268.31 L165.75 267.90 L166.00 267.49 L166.25 267.07 L166.50 266.65 L166.75 266.22 L167.00 265.78 L167.25 265.35 L167.50 264.90 L167.75 264.45 L168.00 264.00 L168.25 263.54 L168.50 263.07 L168.75 262.61 L169.00 262.13 L169.25 261.65 L169.50 261.17 L169.75 260.68 L170.00 260.19 L170.25 259.69 L170.50 259.19 L170.75 258.69 L171.00 258.18 L171.25 257.67 L171.50 257.15 L171.75 256.63 L172.00 256.10 L172.25 255.57 L172.50 255.04 L172.75 254.50 L173.00 253.96 L173.25 253.42 L173.50 252.87 L173.75 252.32 L174.00 251.77 L174.25 251.21 L174.50 250.65 L174.75 250.09 L175.00 249.52 L175.25 248.95 L175.50 248.38 L175.75 247.81 L176.00 247.23 L176.25 246.65 L176.50 246.07 L176.75 245.48 L177.00 244.90 L177.25 244.31 L177.50 243.72 L177.75 243.12 L178.00 242.53 L178.25 241.93 L178.50 241.33 L178.75 240.73 L179.00 240.13 L179.25 239.52 L179.50 238.92 L179.75 238.31 L180.00 237.70 L180.25 237.09 L180.50 236.48 L180.75 235.87 L181.00 235.26 L181.25 234.65 L181.50 234.03 L181.75 233.42 L182.00 232.80 L182.25 232.19 L182.50 231.57 L182.75 230.95 L183.00 230.33 L183.25 229.72 L183.50 229.10 L183.75 228.48 L184.00 227.87 L184.25 227.25 L184.50 226.63 L184.75 226.01 L185.00 225.40 L185.25 224.78 L185.50 224.17 L185.75 223.55 L186.00 222.94 L186.25 222.33 L186.50 221.72 L186.75 221.11 L187.00 220.50 L187.25 219.89 L187.50 219.28 L187.75 218.68 L188.00 218.07 L188.25 217.47 L188.50 216.87 L188.75 216.27 L189.00 215.67 L189.25 215.08 L189.50 214.48 L189.75 213.89 L190.00 213.30 L190.25 212.72 L190.50 212.13 L190.75 211.55 L191.00 210.97 L191.25 210.39 L191.50 209.82 L191.75 209.25 L192.00 208.68 L192.25 208.11 L192.50 207.55 L192.75 206.99 L193.00 206.43 L193.25 205.88 L193.50 205.33 L193.75 204.78 L194.00 204.24 L194.25 203.70 L194.50 203.16 L194.75 202.63 L195.00 202.10 L195.25 201.57 L195.50 201.05 L195.75 200.53 L196.00 200.02 L196.25 199.51 L196.50 199.01 L196.75 198.51 L197.00 198.01 L197.25 197.52 L197.50 197.03 L197.75 196.55 L198.00 196.07 L198.25 195.59 L198.50 195.13 L198.75 194.66 L199.00 194.20 L199.25 193.75 L199.50 193.30 L199.75 192.85 L200.00 192.42 L200.25 191.98 L200.50 191.55 L200.75 191.13 L201.00 190.71 L201.25 190.30 L201.50 189.89 L201.75 189.49 L202.00 189.09 L202.25 188.70 L202.50 188.32 L202.75 187.94 L203.00 187.57 L203.25 187.20 L203.50 186.84 L203.75 186.48 L204.00 186.14 L204.25 185.79 L204.50 185.46 L204.75 185.13 L205.00 184.80 L205.25 184.48 L205.50 184.17 L205.75 183.87 L206.00 183.57 L206.25 183.27 L206.50 182.99 L206.75 182.71 L207.00 182.43 L207.25 182.17 L207.50 181.91 L207.75 181.66 L208.00 181.41 L208.25 181.17 L208.50 180.94 L208.75 180.71 L209.00 180.49 L209.25 180.28 L209.50 180.07 L209.75 179.87 L210.00 179.68 L210.25 179.50 L210.50 179.32 L210.75 179.15 L211.00 178.99 L211.25 178.83 L211.50 178.68 L211.75 178.54 L212.00 178.41 L212.25 178.28 L212.50 178.16 L212.75 178.04 L213.00 177.94 L213.25 177.84 L213.50 177.75 L213.75 177.66 L214.00 177.59 L214.25 177.52 L214.50 177.45 L214.75 177.40 L215.00 177.35 L215.25 177.31 L215.50 177.28 L215.75 177.25 L216.00 177.23 L216.25 177.22 L216.50 177.22 L216.75 177.22 L217.00 177.23 L217.25 177.25 L217.50 177.28 L217.75 177.31 L218.00 177.35 L218.25 177.40 L218.50 177.45 L218.75 177.52 L219.00 177.59 L219.25 177.66 L219.50 177.75 L219.75 177.84 L220.00 177.94 L220.25 178.04 L220.50 178.16 L220.75 178.28 L221.00 178.41 L221.25 178.54 L221.50 178.68 L221.75 178.83 L222.00 178.99 L222.25 179.15 L222.50 179.32 L222.75 179.50 L223.00 179.68 L223.25 179.87 L223.50 180.07 L223.75 180.28 L224.00 180.49 L224.25 180.71 L224.50 180.94 L224.75 181.17 L225.00 181.41 L225.25 181.66 L225.50 181.91 L225.75 182.17 L226.00 182.43 L226.25 182.71 L226.50 182.99 L226.75 183.27 L227.00 183.57 L227.25 183.87 L227.50 184.17 L227.75 184.48 L228.00 184.80 L228.25 185.13 L228.50 185.46 L228.75 185.79 L229.00 186.14 L229.25 186.48 L229.50 186.84 L229.75 187.20 L230.00 187.57 L230.25 187.94 L230.50 188.32 L230.75 188.70 L231.00 189.09 L231.25 189.49 L231.50 189.89 L231.75 190.30 L232.00 190.71 L232.25 191.13 L232.50 191.55 L232.75 191.98 L233.00 192.42 L233.25 192.85 L233.50 193.30 L233.75 193.75 L234.00 194.20 L234.25 194.66 L234.50 195.13 L234.75 195.59 L235.00 196.07 L235.25 196.55 L235.50 197.03 L235.75 197.52 L236.00 198.01 L236.25 198.51 L236.50 199.01 L236.75 199.51 L237.00 200.02 L237.25 200.53 L237.50 201.05 L237.75 201.57 L238.00 202.10 L238.25 202.63 L238.50 203.16 L238.75 203.70 L239.00 204.24 L239.25 204.78 L239.50 205.33 L239.75 205.88 L240.00 206.43 L240.25 206.99 L240.50 207.55 L240.75 208.11 L241.00 208.68 L241.25 209.25 L241.50 209.82 L241.75 210.39 L242.00 210.97 L242.25 211.55 L242.50 212.13 L242.75 212.72 L243.00 213.30 L243.25 213.89 L243.50 214.48 L243.75 215.08 L244.00 215.67 L244.25 216.27 L244.50 216.87 L244.75 217.47 L245.00 218.07 L245.25 218.68 L245.50 219.28 L245.75 219.89 L246.00 220.50 L246.25 221.11 L246.50 221.72 L246.75 222.33 L247.00 222.94 L247.25 223.55 L247.50 224.17 L247.75 224.78 L248.00 225.40 L248.25 226.01 L248.50 226.63 L248.75 227.25 L249.00 227.87 L249.25 228.48 L249.50 229.10 L249.75 229.72 L250.00 230.33 L250.25 230.95 L250.50 231.57 L250.75 232.19 L251.00 232.80 L251.25 233.42 L251.50 234.03 L251.75 234.65 L252.00 235.26 L252.25 235.87 L252.50 236.48 L252.75 237.09 L253.00 237.70 L253.25 238.31 L253.50 238.92 L253.75 239.52 L254.00 240.13 L254.25 240.73 L254.50 241.33 L254.75 241.93 L255.00 242.53 L255.25 243.12 L255.50 243.72 L255.75 244.31 L256.00 244.90 L256.25 245.48 L256.50 246.07 L256.75 246.65 L257.00 247.23 L257.25 247.81 L257.50 248.38 L257.75 248.95 L258.00 249.52 L258.25 250.09 L258.50 250.65 L258.75 251.21 L259.00 251.77 L259.25 252.32 L259.50 252.87 L259.75 253.42 L260.00 253.96 L260.25 254.50 L260.50 255.04 L260.75 255.57 L261.00 256.10 L261.25 256.63 L261.50 257.15 L261.75 257.67 L262.00 258.18 L262.25 258.69 L262.50 259.19 L262.75 259.69 L263.00 260.19 L263.25 260.68 L263.50 261.17 L263.75 261.65 L264.00 262.13 L264.25 262.61 L264.50 263.07 L264.75 263.54 L265.00 264.00 L265.25 264.45 L265.50 264.90 L265.75 265.35 L266.00 265.78 L266.25 266.22 L266.50 266.65 L266.75 267.07 L267.00 267.49 L267.25 267.90 L267.50 268.31 L267.75 268.71 L268.00 269.11 L268.25 269.50 L268.50 269.88 L268.75 270.26 L269.00 270.63 L269.25 271.00 L269.50 271.36 L269.75 271.72 L270.00 272.06 L270.25 272.41 L270.50 272.74 L270.75 273.07 L271.00 273.40 L271.25 273.72 L271.50 274.03 L271.75 273.61 L272.00 272.34 L272.25 270.25 L272.50 267.37 L272.75 263.74 L273.00 259.40 L273.25 254.42 L273.50 248.87 L273.75 242.83 L274.00 236.38 L274.25 229.62 L274.50 222.63 L274.75 215.52 L275.00 208.39 L275.25 201.34 L275.50 194.47 L275.75 187.87 L276.00 181.64 L276.25 175.86 L276.50 170.62 L276.75 165.99 L277.00 162.04 L277.25 158.82 L277.50 156.38 L277.75 154.75 L278.00 153.96 L278.25 153.93 L278.50 154.32 L278.75 155.07 L279.00 156.18 L279.25 157.65 L279.50 159.48 L279.75 161.65 L280.00 164.17 L280.25 167.02 L280.50 170.21 L280.75 173.70 L281.00 177.51 L281.25 181.62 L281.50 186.01 L281.75 190.67 L282.00 195.59 L282.25 200.76 L282.50 206.16 L282.75 211.77 L283.00 217.58 L283.25 223.58 L283.50 229.74 L283.75 236.04 L284.00 242.48 L284.25 249.03 L284.50 255.67 L284.75 262.38 L285.00 269.14 L285.25 275.94 L285.50 282.75 L285.75 289.56 L286.00 296.34 L286.25 303.08 L286.50 309.76 L286.75 316.35 L287.00 322.84 L287.25 329.21 L287.50 335.44 L287.75 341.52 L288.00 347.42 L288.25 353.13 L288.50 358.64 L288.75 363.92 L289.00 368.96 L289.25 373.75 L289.50 378.27 L289.75 382.51 L290.00 386.47 L290.25 390.11 L290.50 393.45 L290.75 396.46 L291.00 399.14 L291.25 401.48 L291.50 403.47 L291.75 405.12 L292.00 406.40 L292.25 407.33 L292.50 407.89 L292.75 408.09 L293.00 407.92 L293.25 407.38 L293.50 406.49 L293.75 405.23 L294.00 403.62 L294.25 401.65 L294.50 399.34 L294.75 396.69 L295.00 393.70 L295.25 390.39 L295.50 386.77 L295.75 382.84 L296.00 378.62 L296.25 374.12 L296.50 369.35 L296.75 364.33 L297.00 359.07 L297.25 353.58 L297.50 347.89 L297.75 342.00 L298.00 335.94 L298.25 329.72 L298.50 323.36 L298.75 316.87 L299.00 310.29 L299.25 303.62 L299.50 296.88 L299.75 290.10 L300.00 283.30 L300.25 276.48 L300.50 269.68 L300.75 262.92 L301.00 256.20 L301.25 249.55 L301.50 243.00 L301.75 236.56 L302.00 230.24 L302.25 224.07 L302.50 218.06 L302.75 212.23 L303.00 206.60 L303.25 201.18 L303.50 196.00 L303.75 191.05 L304.00 186.37 L304.25 181.96 L304.50 177.83 L304.75 174.00 L305.00 170.47 L305.25 167.27 L305.50 164.39 L305.75 161.84 L306.00 159.64 L306.25 157.79 L306.50 156.29 L306.75 155.14 L307.00 154.36 L307.25 153.95 L307.50 153.90 L307.75 154.21 L308.00 154.89 L308.25 155.93 L308.50 157.33 L308.75 159.09 L309.00 161.19 L309.25 163.64 L309.50 166.43 L309.75 169.54 L310.00 172.98 L310.25 176.73 L310.50 180.77 L310.75 185.11 L311.00 189.72 L311.25 194.59 L311.50 199.71 L311.75 205.06 L312.00 210.63 L312.25 216.41 L312.50 222.37 L312.75 228.49 L313.00 234.77 L313.25 241.18 L313.50 247.71 L313.75 254.33 L314.00 261.03 L314.25 267.78 L314.50 274.58 L314.75 281.39 L315.00 288.20 L315.25 294.99 L315.50 301.74 L315.75 308.43 L316.00 315.04 L316.25 321.55 L316.50 327.95 L316.75 334.21 L317.00 340.32 L317.25 346.26 L317.50 352.01 L317.75 357.55 L318.00 362.88 L318.25 367.97 L318.50 372.81 L318.75 377.39 L319.00 381.69 L319.25 385.70 L319.50 389.41 L319.75 392.81 L320.00 395.88 L320.25 398.63 L320.50 401.04 L320.75 403.10 L321.00 404.82 L321.25 406.17 L321.50 407.17 L321.75 407.81 L322.00 408.08 L322.25 407.98 L322.50 407.52 L322.75 406.70 L323.00 405.51 L323.25 403.97 L323.50 402.07 L323.75 399.83 L324.00 397.24 L324.25 394.32 L324.50 391.08 L324.75 387.52 L325.00 383.65 L325.25 379.49 L325.50 375.04 L325.75 370.33 L326.00 365.35 L326.25 360.14 L326.50 354.70 L326.75 349.04 L327.00 343.19 L327.25 337.16 L327.50 330.97 L327.75 324.64 L328.00 318.18 L328.25 311.61 L328.50 304.96 L328.75 298.23 L329.00 291.46 L329.25 284.66 L329.50 277.85 L329.75 271.04 L330.00 264.27 L330.25 257.54 L330.50 250.88 L330.75 244.30 L331.00 237.83 L331.25 231.49 L331.50 225.29 L331.75 219.25 L332.00 213.38 L332.25 207.71 L332.50 202.25 L332.75 197.02 L333.00 192.02 L333.25 187.29 L333.50 182.82 L333.75 178.63 L334.00 174.74 L334.25 171.15 L334.50 167.88 L334.75 164.94 L335.00 162.32 L335.25 160.05 L335.50 158.13 L335.75 156.56 L336.00 155.34 L336.25 154.49 L336.50 154.00 L336.75 153.88 L337.00 154.12 L337.25 154.73 L337.50 155.69 L337.75 157.02 L338.00 158.71 L338.25 160.74 L338.50 163.12 L338.75 165.84 L339.00 168.89 L339.25 172.27 L339.50 175.95 L339.75 179.94 L340.00 184.22 L340.25 188.77 L340.50 193.59 L340.75 198.66 L341.00 203.97 L341.25 209.50 L341.50 215.24 L341.75 221.16 L342.00 227.26 L342.25 233.51 L342.50 239.89 L342.75 246.40 L343.00 253.00 L343.25 259.68 L343.50 266.43 L343.75 273.22 L344.00 280.03 L344.25 286.84 L344.50 293.63 L344.75 300.39 L345.00 307.10 L345.25 313.72 L345.50 320.26 L345.75 326.68 L346.00 332.97 L346.25 339.11 L346.50 345.08 L346.75 350.87 L347.00 356.46 L347.25 361.83 L347.50 366.97 L347.75 371.86 L348.00 376.49 L348.25 380.85 L348.50 384.92 L348.75 388.69 L349.00 392.15 L349.25 395.30 L349.50 398.11 L349.75 400.59 L350.00 402.72 L350.25 404.50 L350.50 405.93 L350.75 407.00 L351.00 407.71 L351.25 408.05 L351.50 408.03 L351.75 407.64 L352.00 406.89 L352.25 405.78 L352.50 404.31 L352.75 402.48 L353.00 400.31 L353.25 397.79 L353.50 394.94 L353.75 391.75 L354.00 388.26 L354.25 384.45 L354.50 380.34 L354.75 375.95 L355.00 371.29 L355.25 366.37 L355.50 361.20 L355.75 355.80 L356.00 350.19 L356.25 344.38 L356.50 338.38 L356.75 332.22 L357.00 325.92 L357.25 319.48 L357.50 312.93 L357.75 306.29 L358.00 299.58 L358.25 292.82 L358.50 286.02 L358.75 279.21 L359.00 272.40 L359.25 265.62 L359.50 258.88 L359.75 252.20 L360.00 245.61 L360.25 239.12 L360.50 232.75 L360.75 226.52 L361.00 220.44 L361.25 214.54 L361.50 208.83 L361.75 203.32 L362.00 198.04 L362.25 193.00 L362.50 188.21 L362.75 183.69 L363.00 179.45 L363.25 175.49 L363.50 171.85 L363.75 168.51 L364.00 165.50 L364.25 162.82 L364.50 160.48 L364.75 158.49 L365.00 156.84 L365.25 155.56 L365.50 154.63 L365.75 154.07 L366.00 153.87 L366.25 154.04 L366.50 154.58 L366.75 155.47 L367.00 156.73 L367.25 158.34 L367.50 160.31 L367.75 162.62 L368.00 165.27 L368.25 168.26 L368.50 171.57 L368.75 175.19 L369.00 179.12 L369.25 183.34 L369.50 187.84 L369.75 192.61 L370.00 197.63 L370.25 202.89 L370.50 208.38 L370.75 214.07 L371.00 219.96 L371.25 226.02 L371.50 232.24 L371.75 238.60 L372.00 245.09 L372.25 251.67 L372.50 258.34 L372.75 265.08 L373.00 271.86 L373.25 278.66 L373.50 285.48 L373.75 292.28 L374.00 299.04 L374.25 305.76 L374.50 312.41 L374.75 318.96 L375.00 325.40 L375.25 331.72 L375.50 337.89 L375.75 343.90 L376.00 349.73 L376.25 355.36 L376.50 360.78 L376.75 365.96 L377.00 370.91 L377.25 375.59 L377.50 380.00 L377.75 384.13 L378.00 387.96 L378.25 391.49 L378.50 394.69 L378.75 397.57 L379.00 400.12 L379.25 402.32 L379.50 404.17 L379.75 405.67 L380.00 406.82 L380.25 407.60 L380.50 408.01 L380.75 408.06 L381.00 407.75 L381.25 407.07 L381.50 406.03 L381.75 404.63 L382.00 402.87 L382.25 400.77 L382.50 398.32 L382.75 395.53 L383.00 392.42 L383.25 388.98 L383.50 385.23 L383.75 381.19 L384.00 376.85 L384.25 372.24 L384.50 367.37 L384.75 362.25 L385.00 356.90 L385.25 351.33 L385.50 345.55 L385.75 339.59 L386.00 333.47 L386.25 327.19 L386.50 320.78 L386.75 314.25 L387.00 307.63 L387.25 300.93 L387.50 294.18 L387.75 287.38 L388.00 280.57 L388.25 273.76 L388.50 266.97 L388.75 260.22 L389.00 253.53 L389.25 246.92 L389.50 240.41 L389.75 234.01 L390.00 227.75 L390.25 221.64 L390.50 215.70 L390.75 209.95 L391.00 204.41 L391.25 199.08 L391.50 193.99 L391.75 189.15 L392.00 184.57 L392.25 180.27 L392.50 176.26 L392.75 172.55 L393.00 169.15 L393.25 166.08 L393.50 163.33 L393.75 160.92 L394.00 158.86 L394.25 157.14 L394.50 155.79 L394.75 154.79 L395.00 154.15 L395.25 153.88 L395.50 153.98 L395.75 154.44 L396.00 155.26 L396.25 156.45 L396.50 157.99 L396.75 159.89 L397.00 162.13 L397.25 164.72 L397.50 167.64 L397.75 170.88 L398.00 174.44 L398.25 178.31 L398.50 182.47 L398.75 186.92 L399.00 191.63 L399.25 196.61 L399.50 201.82 L399.75 207.26 L400.00 212.92 L400.25 218.77 L400.50 224.80 L400.75 230.99 L401.00 237.32 L401.25 243.78 L401.50 250.35 L401.75 257.00 L402.00 263.73 L402.25 270.50 L402.50 277.30 L402.75 284.11 L403.00 290.92 L403.25 297.69 L403.50 304.42 L403.75 311.08 L404.00 317.66 L404.25 324.13 L404.50 330.47 L404.75 336.67 L405.00 342.71 L405.25 348.58 L405.50 354.25 L405.75 359.71 L406.00 364.94 L406.25 369.94 L406.50 374.67 L406.75 379.14 L407.00 383.33 L407.25 387.22 L407.50 390.81 L407.75 394.08 L408.00 397.02 L408.25 399.64 L408.50 401.91 L408.75 403.83 L409.00 405.40 L409.25 406.62 L409.50 407.47 L409.75 407.96 L410.00 408.08 L410.25 407.84 L410.50 407.23 L410.75 406.27 L411.00 404.94 L411.25 403.25 L411.50 401.22 L411.75 398.84 L412.00 396.12 L412.25 393.07 L412.50 389.69 L412.75 386.01 L413.00 382.02 L413.25 377.74 L413.50 373.19 L413.75 368.37 L414.00 363.30 L414.25 357.99 L414.50 352.46 L414.75 346.72 L415.00 340.80 L415.25 334.70 L415.50 328.45 L415.75 322.07 L416.00 315.56 L416.25 308.96 L416.50 302.28 L416.75 295.53 L417.00 288.74 L417.25 281.93 L417.50 275.12 L417.75 268.33 L418.00 261.57 L418.25 254.86 L418.50 248.24 L418.75 241.70 L419.00 235.28 L419.25 228.99 L419.50 222.85 L419.75 216.88 L420.00 211.09 L420.25 205.50 L420.50 200.13 L420.75 194.99 L421.00 190.10 L421.25 185.47 L421.50 181.11 L421.75 177.04 L422.00 173.27 L422.25 169.81 L422.50 166.66 L422.75 163.85 L423.00 161.37 L423.25 159.24 L423.50 157.46 L423.75 156.03 L424.00 154.96 L424.25 154.25 L424.50 153.91 L424.75 153.93 L425.00 154.32 L425.25 155.07 L425.50 156.18 L425.75 157.65 L426.00 159.48 L426.25 161.65 L426.50 164.17 L426.75 167.02 L427.00 170.21 L427.25 173.70 L427.50 177.51 L427.75 181.62 L428.00 186.01 L428.25 190.67 L428.50 195.59 L428.75 200.76 L429.00 206.16 L429.25 211.77 L429.50 217.58 L429.75 223.58 L430.00 229.74 L430.25 236.04 L430.50 242.48 L430.75 249.03 L431.00 255.67 L431.25 262.38 L431.50 269.14 L431.75 275.94 L432.00 282.75 L432.25 289.56 L432.50 296.34 L432.75 303.08 L433.00 309.76 L433.25 316.35 L433.50 322.84 L433.75 329.21 L434.00 335.44 L434.25 341.52 L434.50 347.42 L434.75 353.13 L435.00 358.64 L435.25 363.92 L435.50 368.96 L435.75 373.75 L436.00 378.27 L436.25 382.51 L436.50 386.47 L436.75 390.11 L437.00 393.45 L437.25 396.46 L437.50 399.14 L437.75 401.48 L438.00 403.47 L438.25 405.12 L438.50 406.40 L438.75 407.33 L439.00 407.89 L439.25 408.09 L439.50 407.92 L439.75 407.38 L440.00 406.49 L440.25 405.23 L440.50 403.62 L440.75 401.65 L441.00 399.34 L441.25 396.69 L441.50 393.70 L441.75 390.39 L442.00 386.77 L442.25 382.84 L442.50 378.62 L442.75 374.12 L443.00 369.35 L443.25 364.33 L443.50 359.07 L443.75 353.58 L444.00 347.89 L444.25 342.00 L444.50 335.94 L444.75 329.72 L445.00 323.36 L445.25 316.87 L445.50 310.29 L445.75 303.62 L446.00 296.88 L446.25 290.10 L446.50 283.30 L446.75 276.48 L447.00 269.68 L447.25 262.92 L447.50 256.20 L447.75 249.55 L448.00 243.00 L448.25 236.56 L448.50 230.24 L448.75 224.07 L449.00 218.06 L449.25 212.23 L449.50 206.60 L449.75 201.18 L450.00 196.00 L450.25 191.05 L450.50 186.37 L450.75 181.96 L451.00 177.83 L451.25 174.00 L451.50 170.47 L451.75 167.27 L452.00 164.39 L452.25 161.84 L452.50 159.64 L452.75 157.79 L453.00 156.29 L453.25 155.14 L453.50 154.36 L453.75 153.95 L454.00 153.90 L454.25 154.21 L454.50 154.89 L454.75 155.93 L455.00 157.33 L455.25 159.09 L455.50 161.19 L455.75 163.64 L456.00 166.43 L456.25 169.54 L456.50 172.98 L456.75 176.73 L457.00 180.77 L457.25 185.11 L457.50 189.72 L457.75 194.59 L458.00 199.71 L458.25 205.06 L458.50 210.63 L458.75 216.41 L459.00 222.37 L459.25 228.49 L459.50 234.77 L459.75 241.18 L460.00 247.71 L460.25 254.33 L460.50 261.03 L460.75 267.78 L461.00 274.58 L461.25 281.39 L461.50 288.20 L461.75 294.99 L462.00 301.74 L462.25 308.43 L462.50 315.04 L462.75 321.55 L463.00 327.95 L463.25 334.21 L463.50 340.32 L463.75 346.26 L464.00 352.01 L464.25 357.55 L464.50 362.88 L464.75 367.97 L465.00 372.81 L465.25 377.39 L465.50 381.69 L465.75 385.70 L466.00 389.41 L466.25 392.81 L466.50 395.88 L466.75 398.63 L467.00 401.04 L467.25 403.10 L467.50 404.82 L467.75 406.17 L468.00 407.17 L468.25 407.81 L468.50 408.08 L468.75 407.98 L469.00 407.52 L469.25 406.70 L469.50 405.51 L469.75 403.97 L470.00 402.07 L470.25 399.83 L470.50 397.24 L470.75 394.32 L471.00 391.08 L471.25 387.52 L471.50 383.65 L471.75 379.49 L472.00 375.04 L472.25 370.33 L472.50 365.35 L472.75 360.14 L473.00 354.70 L473.25 349.04 L473.50 343.19 L473.75 337.16 L474.00 330.97 L474.25 324.64 L474.50 318.18 L474.75 311.61 L475.00 304.96 L475.25 298.23 L475.50 291.46 L475.75 284.66 L476.00 277.85 L476.25 271.04 L476.50 264.27 L476.75 257.54 L477.00 250.88 L477.25 244.30 L477.50 237.83 L477.75 231.49 L478.00 225.29 L478.25 219.25 L478.50 213.38 L478.75 207.71 L479.00 202.25 L479.25 197.02 L479.50 192.02 L479.75 187.29 L480.00 182.82 L480.25 178.63 L480.50 174.74 L480.75 171.15 L481.00 167.88 L481.25 164.94 L481.50 162.32 L481.75 160.05 L482.00 158.13 L482.25 156.56 L482.50 155.34 L482.75 154.49 L483.00 154.00 L483.25 153.88 L483.50 154.12 L483.75 154.73 L484.00 155.69 L484.25 157.02 L484.50 158.71 L484.75 160.74 L485.00 163.12 L485.25 165.84 L485.50 168.89 L485.75 172.27 L486.00 175.95 L486.25 179.94 L486.50 184.22 L486.75 188.77 L487.00 193.59 L487.25 198.66 L487.50 203.97 L487.75 209.50 L488.00 215.24 L488.25 221.16 L488.50 227.26 L488.75 233.51 L489.00 239.89 L489.25 246.40 L489.50 253.00 L489.75 259.68 L490.00 266.43 L490.25 273.22 L490.50 280.03 L490.75 286.84 L491.00 293.63 L491.25 300.39 L491.50 307.10 L491.75 313.72 L492.00 320.26 L492.25 326.68 L492.50 332.97 L492.75 339.11 L493.00 345.08 L493.25 350.87 L493.50 356.46 L493.75 361.83 L494.00 366.97 L494.25 371.86 L494.50 376.49 L494.75 380.85 L495.00 384.92 L495.25 388.69 L495.50 392.15 L495.75 395.30 L496.00 398.11 L496.25 400.59 L496.50 402.72 L496.75 404.50 L497.00 405.93 L497.25 407.00 L497.50 407.71 L497.75 408.05 L498.00 408.03 L498.25 407.64 L498.50 406.89 L498.75 405.78 L499.00 404.31 L499.25 402.48 L499.50 400.31 L499.75 397.79 L500.00 394.94 L500.25 391.75 L500.50 388.26 L500.75 384.45 L501.00 380.34 L501.25 375.95 L501.50 371.29 L501.75 366.37 L502.00 361.20 L502.25 355.80 L502.50 350.19 L502.75 344.38 L503.00 338.38 L503.25 332.22 L503.50 325.92 L503.75 319.48 L504.00 312.93 L504.25 306.29 L504.50 299.58 L504.75 292.82 L505.00 286.02 L505.25 279.21 L505.50 272.40 L505.75 265.62 L506.00 258.88 L506.25 252.20 L506.50 245.61 L506.75 239.12 L507.00 232.75 L507.25 226.52 L507.50 220.44 L507.75 214.54 L508.00 208.83 L508.25 203.32 L508.50 198.04 L508.75 193.00 L509.00 188.21 L509.25 183.69 L509.50 179.45 L509.75 175.49 L510.00 171.85 L510.25 168.51 L510.50 165.50 L510.75 162.82 L511.00 160.48 L511.25 158.49 L511.50 156.84 L511.75 155.56 L512.00 154.63 L512.25 154.07 L512.50 153.87 L512.75 154.04 L513.00 154.58 L513.25 155.47 L513.50 156.73 L513.75 158.34 L514.00 160.31 L514.25 162.62 L514.50 165.27 L514.75 168.26 L515.00 171.57 L515.25 175.19 L515.50 179.12 L515.75 183.34 L516.00 187.84 L516.25 192.61 L516.50 197.63 L516.75 202.89 L517.00 208.38 L517.25 214.07 L517.50 219.96 L517.75 226.02 L518.00 232.24 L518.25 238.60 L518.50 245.09 L518.75 251.67 L519.00 258.34 L519.25 265.08 L519.50 271.86 L519.75 278.66 L520.00 285.48 L520.25 292.28 L520.50 299.04 L520.75 305.76 L521.00 312.41 L521.25 318.96 L521.50 325.40 L521.75 331.72 L522.00 337.89 L522.25 343.90 L522.50 349.73 L522.75 355.36 L523.00 360.78 L523.25 365.96 L523.50 370.91 L523.75 375.59 L524.00 380.00 L524.25 384.13 L524.50 387.96 L524.75 391.49 L525.00 394.69 L525.25 397.57 L525.50 400.12 L525.75 402.32 L526.00 404.17 L526.25 405.67 L526.50 406.82 L526.75 407.60 L527.00 408.01 L527.25 408.06 L527.50 407.75 L527.75 407.07 L528.00 406.03 L528.25 404.63 L528.50 402.87 L528.75 400.77 L529.00 398.32 L529.25 395.53 L529.50 392.42 L529.75 388.98 L530.00 385.23 L530.25 381.19 L530.50 376.85 L530.75 372.24 L531.00 367.37 L531.25 362.25 L531.50 356.90 L531.75 351.33 L532.00 345.55 L532.25 339.59 L532.50 333.47 L532.75 327.19 L533.00 320.78 L533.25 314.25 L533.50 307.63 L533.75 300.93 L534.00 294.18 L534.25 287.38 L534.50 280.57 L534.75 273.76 L535.00 266.97 L535.25 260.22 L535.50 253.53 L535.75 246.92 L536.00 240.41 L536.25 234.01 L536.50 227.75 L536.75 221.64 L537.00 215.70 L537.25 209.95 L537.50 204.41 L537.75 199.08 L538.00 193.99 L538.25 189.15 L538.50 184.57 L538.75 180.27 L539.00 176.26 L539.25 172.55 L539.50 169.15 L539.75 166.08 L540.00 163.33 L540.25 160.92 L540.50 158.86 L540.75 157.14 L541.00 155.79 L541.25 154.79 L541.50 154.15 L541.75 153.88 L542.00 153.98 L542.25 154.44 L542.50 155.26 L542.75 156.45 L543.00 157.99 L543.25 159.89 L543.50 162.13 L543.75 164.72 L544.00 167.64 L544.25 170.88 L544.50 174.44 L544.75 178.31 L545.00 182.47 L545.25 186.92 L545.50 191.63 L545.75 196.61 L546.00 201.82 L546.25 207.26 L546.50 212.92 L546.75 218.77 L547.00 224.80 L547.25 230.99 L547.50 237.32 L547.75 243.78 L548.00 250.35 L548.25 257.00 L548.50 263.73 L548.75 270.50 L549.00 277.30 L549.25 284.11 L549.50 290.92 L549.75 297.69 L550.00 304.42 L550.25 311.08 L550.50 317.66 L550.75 324.13 L551.00 330.47 L551.25 336.67 L551.50 342.71 L551.75 348.58 L552.00 354.25 L552.25 359.71 L552.50 364.94 L552.75 369.94 L553.00 374.67 L553.25 379.14 L553.50 383.33 L553.75 387.22 L554.00 390.81 L554.25 394.08 L554.50 397.02 L554.75 399.64 L555.00 401.91 L555.25 403.83 L555.50 405.40 L555.75 406.62 L556.00 407.47 L556.25 407.96 L556.50 408.08 L556.75 407.84 L557.00 407.23 L557.25 406.27 L557.50 404.94 L557.75 403.25 L558.00 401.22 L558.25 398.84 L558.50 396.12 L558.75 393.07 L559.00 389.69 L559.25 386.01 L559.50 382.02 L559.75 377.74 L560.00 373.19 L560.25 368.37 L560.50 363.30 L560.75 357.99 L561.00 352.46 L561.25 346.72 L561.50 340.80 L561.75 334.70 L562.00 328.45 L562.25 322.07 L562.50 315.56 L562.75 308.96 L563.00 302.28 L563.25 295.53 L563.50 288.74 L563.75 281.93 L564.00 275.12 L564.25 268.33 L564.50 261.57 L564.75 254.86 L565.00 248.24 L565.25 241.70 L565.50 235.28 L565.75 228.99 L566.00 222.85 L566.25 216.88 L566.50 211.09 L566.75 205.50 L567.00 200.13 L567.25 194.99 L567.50 190.10 L567.75 185.47 L568.00 181.11 L568.25 177.04 L568.50 173.27 L568.75 169.81 L569.00 166.66 L569.25 163.85 L569.50 161.37 L569.75 159.24 L570.00 157.46 L570.25 156.03 L570.50 154.96 L570.75 154.25 L571.00 153.91 L571.25 153.93 L571.50 154.32 L571.75 155.07 L572.00 156.18 L572.25 157.65 L572.50 159.48 L572.75 161.65 L573.00 164.17 L573.25 167.02 L573.50 170.21 L573.75 173.70 L574.00 177.51 L574.25 181.62 L574.50 186.01 L574.75 190.67 L575.00 195.59 L575.25 200.76 L575.50 206.16 L575.75 211.77 L576.00 217.58 L576.25 223.58 L576.50 229.74 L576.75 236.04 L577.00 242.48 L577.25 249.03 L577.50 255.67 L577.75 262.38 L578.00 269.14 L578.25 275.94 L578.50 282.75 L578.75 289.56 L579.00 296.34 L579.25 303.08 L579.50 309.76 L579.75 316.35 L580.00 322.84 L580.25 329.21 L580.50 335.44 L580.75 341.52 L581.00 347.42 L581.25 353.13 L581.50 358.64 L581.75 363.92 L582.00 368.96 L582.25 373.75 L582.50 378.27 L582.75 382.51 L583.00 386.47 L583.25 390.11 L583.50 393.45 L583.75 396.46 L584.00 399.14 L584.25 401.48 L584.50 403.47 L584.75 405.12 L585.00 406.40 L585.25 407.33 L585.50 407.89 L585.75 408.09 L586.00 407.92 L586.25 407.38 L586.50 406.49 L586.75 405.23 L587.00 403.62 L587.25 401.65 L587.50 399.34 L587.75 396.69 L588.00 393.70 L588.25 390.39 L588.50 386.77 L588.75 382.84 L589.00 378.62 L589.25 374.12 L589.50 369.35 L589.75 364.33 L590.00 359.07 L590.25 353.58 L590.50 347.89 L590.75 342.00 L591.00 335.94 L591.25 329.72 L591.50 323.36 L591.75 316.87 L592.00 310.29 L592.25 303.62 L592.50 296.88 L592.75 290.10 L593.00 283.30 L593.25 276.48 L593.50 269.68 L593.75 262.92 L594.00 256.20 L594.25 249.55 L594.50 243.00 L594.75 236.56 L595.00 230.24 L595.25 224.07 L595.50 218.06 L595.75 212.23 L596.00 206.60 L596.25 201.18 L596.50 196.00 L596.75 191.05 L597.00 186.37 L597.25 181.96 L597.50 177.83 L597.75 174.00 L598.00 170.47 L598.25 167.27 L598.50 164.39 L598.75 161.84 L599.00 159.64 L599.25 157.79 L599.50 156.29 L599.75 155.14 L600.00 154.36 L600.25 153.95 L600.50 153.90 L600.75 154.21 L601.00 154.89 L601.25 155.93 L601.50 157.33" stroke="#0000ff" stroke-dasharray="3.9 2.93"/>
<path d="M73.50 274.03 L73.75 273.72 L74.00 273.40 L74.25 273.07 L74.50 272.74 L74.75 272.41 L75.00 272.06 L75.25 271.72 L75.50 271.36 L75.75 271.00 L76.00 270.63 L76.25 270.26 L76.50 269.88 L76.75 269.50 L77.00 269.11 L77.25 268.71 L77.50 268.31 L77.75 267.90 L78.00 267.49 L78.25 267.07 L78.50 266.65 L78.75 266.22 L79.00 265.78 L79.25 265.35 L79.50 264.90 L79.75 264.45 L80.00 264.00 L80.25 263.54 L80.50 263.07 L80.75 262.61 L81.00 262.13 L81.25 261.65 L81.50 261.17 L81.75 260.68 L82.00 260.19 L82.25 259.69 L82.50 259.19 L82.75 258.69 L83.00 258.18 L83.25 257.67 L83.50 257.15 L83.75 256.63 L84.00 256.10 L84.25 255.57 L84.50 255.04 L84.75 254.50 L85.00 253.96 L85.25 253.42 L85.50 252.87 L85.75 252.32 L86.00 251.77 L86.25 251.21 L86.50 250.65 L86.75 250.09 L87.00 249.52 L87.25 248.95 L87.50 248.38 L87.75 247.81 L88.00 247.23 L88.25 246.65 L88.50 246.07 L88.75 245.48 L89.00 244.90 L89.25 244.31 L89.50 243.72 L89.75 243.12 L90.00 242.53 L90.25 241.93 L90.50 241.33 L90.75 240.73 L91.00 240.13 L91.25 239.52 L91.50 238.92 L91.75 238.31 L92.00 237.70 L92.25 237.09 L92.50 236.48 L92.75 235.87 L93.00 235.26 L93.25 234.65 L93.50 234.03 L93.75 233.42 L94.00 232.80 L94.25 232.19 L94.50 231.57 L94.75 230.95 L95.00 230.33 L95.25 229.72 L95.50 229.10 L95.75 228.48 L96.00 227.87 L96.25 227.25 L96.50 226.63 L96.75 226.01 L97.00 225.40 L97.25 224.78 L97.50 224.17 L97.75 223.55 L98.00 222.94 L98.25 222.33 L98.50 221.72 L98.75 221.11 L99.00 220.50 L99.25 219.89 L99.50 219.28 L99.75 218.68 L100.00 218.07 L100.25 217.47 L100.50 216.87 L100.75 216.27 L101.00 215.67 L101.25 215.08 L101.50 214.48 L101.75 213.89 L102.00 213.30 L102.25 212.72 L102.50 212.13 L102.75 211.55 L103.00 210.97 L103.25 210.39 L103.50 209.82 L103.75 209.25 L104.00 208.68 L104.25 208.11 L104.50 207.55 L104.75 206.99 L105.00 206.43 L105.25 205.88 L105.50 205.33 L105.75 204.78 L106.00 204.24 L106.25 203.70 L106.50 203.16 L106.75 202.63 L107.00 202.10 L107.25 201.57 L107.50 201.05 L107.75 200.53 L108.00 200.02 L108.25 199.51 L108.50 199.01 L108.75 198.51 L109.00 198.01 L109.25 197.52 L109.50 197.03 L109.75 196.55 L110.00 196.07 L110.25 195.59 L110.50 195.13 L110.75 194.66 L111.00 194.20 L111.25 193.75 L111.50 193.30 L111.75 192.85 L112.00 192.42 L112.25 191.98 L112.50 191.55 L112.75 191.13 L113.00 190.71 L113.25 190.30 L113.50 189.89 L113.75 189.49 L114.00 189.09 L114.25 188.70 L114.50 188.32 L114.75 187.94 L115.00 187.57 L115.25 187.20 L115.50 186.84 L115.75 186.48 L116.00 186.14 L116.25 185.79 L116.50 185.46 L116.75 185.13 L117.00 184.80 L117.25 184.48 L117.50 184.17 L117.75 183.87 L118.00 183.57 L118.25 183.27 L118.50 182.99 L118.75 182.71 L119.00 182.43 L119.25 182.17 L119.50 181.91 L119.75 181.66 L120.00 181.41 L120.25 181.17 L120.50 180.94 L120.75 180.71 L121.00 180.49 L121.25 180.28 L121.50 180.07 L121.75 179.87 L122.00 179.68 L122.25 179.50 L122.50 179.32 L122.75 179.15 L123.00 178.99 L123.25 178.83 L123.50 178.68 L123.75 178.54 L124.00 178.41 L124.25 178.28 L124.50 178.16 L124.75 178.04 L125.00 177.94 L125.25 177.84 L125.50 177.75 L125.75 177.66 L126.00 177.59 L126.25 177.52 L126.50 177.45 L126.75 177.40 L127.00 177.35 L127.25 177.31 L127.50 177.28 L127.75 177.25 L128.00 177.23 L128.25 177.22 L128.50 177.22 L128.75 177.22 L129.00 177.23 L129.25 177.25 L129.50 177.28 L129.75 177.31 L130.00 177.35 L130.25 177.40 L130.50 177.45 L130.75 177.52 L131.00 177.59 L131.25 177.66 L131.50 177.75 L131.75 177.84 L132.00 177.94 L132.25 178.04 L132.50 178.16 L132.75 178.28 L133.00 178.41 L133.25 178.54 L133.50 178.68 L133.75 178.83 L134.00 178.99 L134.25 179.15 L134.50 179.32 L134.75 179.50 L135.00 179.68 L135.25 179.87 L135.50 180.07 L135.75 180.28 L136.00 180.49 L136.25 180.71 L136.50 180.94 L136.75 181.17 L137.00 181.41 L137.25 181.66 L137.50 181.91 L137.75 182.17 L138.00 182.43 L138.25 182.71 L138.50 182.99 L138.75 183.27 L139.00 183.57 L139.25 183.87 L139.50 184.17 L139.75 184.48 L140.00 184.80 L140.25 185.13 L140.50 185.46 L140.75 185.79 L141.00 186.14 L141.25 186.48 L141.50 186.84 L141.75 187.20 L142.00 187.57 L142.25 187.94 L142.50 188.32 L142.75 188.70 L143.00 189.09 L143.25 189.49 L143.50 189.89 L143.75 190.30 L144.00 190.71 L144.25 191.13 L144.50 191.55 L144.75 191.98 L145.00 192.42 L145.25 192.85 L145.50 193.30 L145.75 193.75 L146.00 194.20 L146.25 194.66 L146.50 195.13 L146.75 195.59 L147.00 196.07 L147.25 196.55 L147.50 197.03 L147.75 197.52 L148.00 198.01 L148.25 198.51 L148.50 199.01 L148.75 199.51 L149.00 200.02 L149.25 200.53 L149.50 201.05 L149.75 201.57 L150.00 202.10 L150.25 202.63 L150.50 203.16 L150.75 203.70 L151.00 204.24 L151.25 204.78 L151.50 205.33 L151.75 205.88 L152.00 206.43 L152.25 206.99 L152.50 207.55 L152.75 208.11 L153.00 208.68 L153.25 209.25 L153.50 209.82 L153.75 210.39 L154.00 210.97 L154.25 211.55 L154.50 212.13 L154.75 212.72 L155.00 213.30 L155.25 213.89 L155.50 214.48 L155.75 215.08 L156.00 215.67 L156.25 216.27 L156.50 216.87 L156.75 217.47 L157.00 218.07 L157.25 218.68 L157.50 219.28 L157.75 219.89 L158.00 220.50 L158.25 221.11 L158.50 221.72 L158.75 222.33 L159.00 222.94 L159.25 223.55 L159.50 224.17 L159.75 224.78 L160.00 225.40 L160.25 226.01 L160.50 226.63 L160.75 227.25 L161.00 227.87 L161.25 228.48 L161.50 229.10 L161.75 229.72 L162.00 230.33 L162.25 230.95 L162.50 231.57 L162.75 232.19 L163.00 232.80 L163.25 233.42 L163.50 234.03 L163.75 234.65 L164.00 235.26 L164.25 235.87 L164.50 236.48 L164.75 237.09 L165.00 237.70 L165.25 238.31 L165.50 238.92 L165.75 239.52 L166.00 240.13 L166.25 240.73 L166.50 241.33 L166.75 241.93 L167.00 242.53 L167.25 243.12 L167.50 243.72 L167.75 244.31 L168.00 244.90 L168.25 245.48 L168.50 246.07 L168.75 246.65 L169.00 247.23 L169.25 247.81 L169.50 248.38 L169.75 248.95 L170.00 249.52 L170.25 250.09 L170.50 250.65 L170.75 251.21 L171.00 251.77 L171.25 252.32 L171.50 252.87 L171.75 253.42 L172.00 253.96 L172.25 254.50 L172.50 255.04 L172.75 255.57 L173.00 256.10 L173.25 256.63 L173.50 257.15 L173.75 257.67 L174.00 258.18 L174.25 258.69 L174.50 259.19 L174.75 259.69 L175.00 260.19 L175.25 260.68 L175.50 261.17 L175.75 261.65 L176.00 262.13 L176.25 262.61 L176.50 263.07 L176.75 263.54 L177.00 264.00 L177.25 264.45 L177.50 264.90 L177.75 265.35 L178.00 265.78 L178.25 266.22 L178.50 266.65 L178.75 267.07 L179.00 267.49 L179.25 267.90 L179.50 268.31 L179.75 268.71 L180.00 269.11 L180.25 269.50 L180.50 269.88 L180.75 270.26 L181.00 270.63 L181.25 271.00 L181.50 271.36 L181.75 271.72 L182.00 272.06 L182.25 272.41 L182.50 272.74 L182.75 273.07 L183.00 273.40 L183.25 273.72 L183.50 274.03 L183.75 274.33 L184.00 274.63 L184.25 274.93 L184.50 275.21 L184.75 275.49 L185.00 275.77 L185.25 276.03 L185.50 276.29 L185.75 276.54 L186.00 276.79 L186.25 277.03 L186.50 277.26 L186.75 277.49 L187.00 277.71 L187.25 277.92 L187.50 278.13 L187.75 278.33 L188.00 278.52 L188.25 278.70 L188.50 278.88 L188.75 279.05 L189.00 279.21 L189.25 279.37 L189.50 279.52 L189.75 279.66 L190.00 279.79 L190.25 279.92 L190.50 280.04 L190.75 280.16 L191.00 280.26 L191.25 280.36 L191.50 280.45 L191.75 280.54 L192.00 280.61 L192.25 280.68 L192.50 280.75 L192.75 280.80 L193.00 280.85 L193.25 280.89 L193.50 280.92 L193.75 280.95 L194.00 280.97 L194.25 280.98 L194.50 280.98 L194.75 280.98 L195.00 280.97 L195.25 280.95 L195.50 280.92 L195.75 280.89 L196.00 280.85 L196.25 280.80 L196.50 280.75 L196.75 280.68 L197.00 280.61 L197.25 280.54 L197.50 280.45 L197.75 280.36 L198.00 280.26 L198.25 280.16 L198.50 280.04 L198.75 279.92 L199.00 279.79 L199.25 279.66 L199.50 279.52 L199.75 279.37 L200.00 279.21 L200.25 279.05 L200.50 278.88 L200.75 278.70 L201.00 278.52 L201.25 278.33 L201.50 278.13 L201.75 277.92 L202.00 277.71 L202.25 277.49 L202.50 277.26 L202.75 277.03 L203.00 276.79 L203.25 276.54 L203.50 276.29 L203.75 276.03 L204.00 275.77 L204.25 275.49 L204.50 275.21 L204.75 274.93 L205.00 274.63 L205.25 274.33 L205.50 274.03 L205.75 273.72 L206.00 273.40 L206.25 273.07 L206.50 272.74 L206.75 272.41 L207.00 272.06 L207.25 271.72 L207.50 271.36 L207.75 271.00 L208.00 270.63 L208.25 270.26 L208.50 269.88 L208.75 269.50 L209.00 269.11 L209.25 268.71 L209.50 268.31 L209.75 267.90 L210.00 267.49 L210.25 267.07 L210.50 266.65 L210.75 266.22 L211.00 265.78 L211.25 265.35 L211.50 264.90 L211.75 264.45 L212.00 264.00 L212.25 263.54 L212.50 263.07 L212.75 262.61 L213.00 262.13 L213.25 261.65 L213.50 261.17 L213.75 260.68 L214.00 260.19 L214.25 259.69 L214.50 259.19 L214.75 258.69 L215.00 258.18 L215.25 257.67 L215.50 257.15 L215.75 256.63 L216.00 256.10 L216.25 255.57 L216.50 255.04 L216.75 254.50 L217.00 253.96 L217.25 253.42 L217.50 252.87 L217.75 252.32 L218.00 251.77 L218.25 251.21 L218.50 250.65 L218.75 250.09 L219.00 249.52 L219.25 248.95 L219.50 248.38 L219.75 247.81 L220.00 247.23 L220.25 246.65 L220.50 246.07 L220.75 245.48 L221.00 244.90 L221.25 244.31 L221.50 243.72 L221.75 243.12 L222.00 242.53 L222.25 241.93 L222.50 241.33 L222.75 240.73 L223.00 240.13 L223.25 239.52 L223.50 238.92 L223.75 238.31 L224.00 237.70 L224.25 237.09 L224.50 236.48 L224.75 235.87 L225.00 235.26 L225.25 234.65 L225.50 234.03 L225.75 233.42 L226.00 232.80 L226.25 232.19 L226.50 231.57 L226.75 230.95 L227.00 230.33 L227.25 229.72 L227.50 229.10 L227.75 228.48 L228.00 227.87 L228.25 227.25 L228.50 226.63 L228.75 226.01 L229.00 225.40 L229.25 224.78 L229.50 224.17 L229.75 223.55 L230.00 222.94 L230.25 222.33 L230.50 221.72 L230.75 221.11 L231.00 220.50 L231.25 219.89 L231.50 219.28 L231.75 218.68 L232.00 218.07 L232.25 217.47 L232.50 216.87 L232.75 216.27 L233.00 215.67 L233.25 215.08 L233.50 214.48 L233.75 213.89 L234.00 213.30 L234.25 212.72 L234.50 212.13 L234.75 211.55 L235.00 210.97 L235.25 210.39 L235.50 209.82 L235.75 209.25 L236.00 208.68 L236.25 208.11 L236.50 207.55 L236.75 206.99 L237.00 206.43 L237.25 205.88 L237.50 205.33 L237.75 204.78 L238.00 204.24 L238.25 203.70 L238.50 203.16 L238.75 202.63 L239.00 202.10 L239.25 201.57 L239.50 201.05 L239.75 200.53 L240.00 200.02 L240.25 199.51 L240.50 199.01 L240.75 198.51 L241.00 198.01 L241.25 197.52 L241.50 197.03 L241.75 196.55 L242.00 196.07 L242.25 195.59 L242.50 195.13 L242.75 194.66 L243.00 194.20 L243.25 193.75 L243.50 193.30 L243.75 192.85 L244.00 192.42 L244.25 191.98 L244.50 191.55 L244.75 191.13 L245.00 190.71 L245.25 190.30 L245.50 189.89 L245.75 189.49 L246.00 189.09 L246.25 188.70 L246.50 188.32 L246.75 187.94 L247.00 187.57 L247.25 187.20 L247.50 186.84 L247.75 186.48 L248.00 186.14 L248.25 185.79 L248.50 185.46 L248.75 185.13 L249.00 184.80 L249.25 184.48 L249.50 184.17 L249.75 183.87 L250.00 183.57 L250.25 183.27 L250.50 182.99 L250.75 182.71 L251.00 182.43 L251.25 182.17 L251.50 181.91 L251.75 181.66 L252.00 181.41 L252.25 181.17 L252.50 180.94 L252.75 180.71 L253.00 180.49 L253.25 180.28 L253.50 180.07 L253.75 179.87 L254.00 179.68 L254.25 179.50 L254.50 179.32 L254.75 179.15 L255.00 178.99 L255.25 178.83 L255.50 178.68 L255.75 178.54 L256.00 178.41 L256.25 178.28 L256.50 178.16 L256.75 178.04 L257.00 177.94 L257.25 177.84 L257.50 177.75 L257.75 177.66 L258.00 177.59 L258.25 177.52 L258.50 177.45 L258.75 177.40 L259.00 177.35 L259.25 177.31 L259.50 177.28 L259.75 177.25 L260.00 177.23 L260.25 177.22 L260.50 177.22 L260.75 177.22 L261.00 177.23 L261.25 177.25 L261.50 177.28 L261.75 177.31 L262.00 177.35 L262.25 177.40 L262.50 177.45 L262.75 177.52 L263.00 177.59 L263.25 177.66 L263.50 177.75 L263.75 177.84 L264.00 177.94 L264.25 178.04 L264.50 178.16 L264.75 178.28 L265.00 178.41 L265.25 178.54 L265.50 178.68 L265.75 178.83 L266.00 178.99 L266.25 179.15 L266.50 179.32 L266.75 179.50 L267.00 179.68 L267.25 179.87 L267.50 180.07 L267.75 180.28 L268.00 180.49 L268.25 180.71 L268.50 180.94 L268.75 181.17 L269.00 181.41 L269.25 181.66 L269.50 181.91 L269.75 182.17 L270.00 182.43 L270.25 182.71 L270.50 182.99 L270.75 183.27 L271.00 183.57 L271.25 183.87 L271.50 184.17" stroke="#ffff00" stroke-dasharray="14.3 13.23" stroke-dashoffset="2"/>
<path d="M271.50 184.17 L271.75 183.60 L272.00 181.92 L272.25 179.14 L272.50 175.33 L272.75 170.55 L273.00 164.89 L273.25 158.46 L273.50 151.38 L273.75 143.78 L274.00 135.80 L274.25 127.60 L274.50 119.32 L274.75 111.13 L275.00 103.16 L275.25 95.58 L275.50 88.53 L275.75 82.12 L276.00 76.50 L276.25 71.76 L276.50 67.98 L276.75 65.25 L277.00 63.61 L277.25 63.08 L277.50 63.41 L277.75 64.34 L278.00 65.86 L278.25 67.97 L278.50 70.67 L278.75 73.93 L279.00 77.75 L279.25 82.11 L279.50 86.99 L279.75 92.37 L280.00 98.23 L280.25 104.53 L280.50 111.27 L280.75 118.39 L281.00 125.88 L281.25 133.71 L281.50 141.83 L281.75 150.21 L282.00 158.83 L282.25 167.63 L282.50 176.59 L282.75 185.66 L283.00 194.80 L283.25 203.99 L283.50 213.17 L283.75 222.30 L284.00 231.35 L284.25 240.29 L284.50 249.06 L284.75 257.63 L285.00 265.97 L285.25 274.04 L285.50 281.81 L285.75 289.24 L286.00 296.30 L286.25 302.95 L286.50 309.18 L286.75 314.95 L287.00 320.24 L287.25 325.03 L287.50 329.30 L287.75 333.02 L288.00 336.18 L288.25 338.77 L288.50 340.78 L288.75 342.20 L289.00 343.01 L289.25 343.23 L289.50 342.84 L289.75 341.86 L290.00 340.28 L290.25 338.10 L290.50 335.35 L290.75 332.03 L291.00 328.16 L291.25 323.74 L291.50 318.81 L291.75 313.38 L292.00 307.48 L292.25 301.13 L292.50 294.36 L292.75 287.19 L293.00 279.67 L293.25 271.81 L293.50 263.66 L293.75 255.25 L294.00 246.62 L294.25 237.80 L294.50 228.83 L294.75 219.75 L295.00 210.60 L295.25 201.41 L295.50 192.24 L295.75 183.11 L296.00 174.07 L296.25 165.15 L296.50 156.39 L296.75 147.84 L297.00 139.53 L297.25 131.48 L297.50 123.75 L297.75 116.36 L298.00 109.34 L298.25 102.72 L298.50 96.54 L298.75 90.82 L299.00 85.57 L299.25 80.84 L299.50 76.63 L299.75 72.96 L300.00 69.85 L300.25 67.32 L300.50 65.37 L300.75 64.02 L301.00 63.26 L301.25 63.10 L301.50 63.55 L301.75 64.59 L302.00 66.23 L302.25 68.47 L302.50 71.28 L302.75 74.65 L303.00 78.58 L303.25 83.05 L303.50 88.03 L303.75 93.51 L304.00 99.45 L304.25 105.85 L304.50 112.66 L304.75 119.86 L305.00 127.42 L305.25 135.31 L305.50 143.49 L305.75 151.92 L306.00 160.57 L306.25 169.41 L306.50 178.39 L306.75 187.48 L307.00 196.64 L307.25 205.82 L307.50 215.00 L307.75 224.12 L308.00 233.15 L308.25 242.05 L308.50 250.79 L308.75 259.32 L309.00 267.61 L309.25 275.62 L309.50 283.32 L309.75 290.68 L310.00 297.66 L310.25 304.23 L310.50 310.37 L310.75 316.05 L311.00 321.24 L311.25 325.93 L311.50 330.08 L311.75 333.69 L312.00 336.74 L312.25 339.22 L312.50 341.11 L312.75 342.41 L313.00 343.10 L313.25 343.20 L313.50 342.70 L313.75 341.59 L314.00 339.89 L314.25 337.60 L314.50 334.73 L314.75 331.30 L315.00 327.32 L315.25 322.80 L315.50 317.77 L315.75 312.24 L316.00 306.25 L316.25 299.81 L316.50 292.96 L316.75 285.72 L317.00 278.12 L317.25 270.21 L317.50 262.00 L317.75 253.54 L318.00 244.87 L318.25 236.02 L318.50 227.02 L318.75 217.92 L319.00 208.76 L319.25 199.58 L319.50 190.41 L319.75 181.29 L320.00 172.27 L320.25 163.38 L320.50 154.67 L320.75 146.16 L321.00 137.89 L321.25 129.91 L321.50 122.24 L321.75 114.92 L322.00 107.98 L322.25 101.45 L322.50 95.36 L322.75 89.73 L323.00 84.59 L323.25 79.95 L323.50 75.85 L323.75 72.29 L324.00 69.30 L324.25 66.88 L324.50 65.05 L324.75 63.82 L325.00 63.18 L325.25 63.14 L325.50 63.71 L325.75 64.87 L326.00 66.63 L326.25 68.98 L326.50 71.91 L326.75 75.39 L327.00 79.43 L327.25 84.00 L327.50 89.08 L327.75 94.66 L328.00 100.70 L328.25 107.18 L328.50 114.07 L328.75 121.35 L329.00 128.97 L329.25 136.92 L329.50 145.15 L329.75 153.63 L330.00 162.33 L330.25 171.20 L330.50 180.20 L330.75 189.31 L331.00 198.48 L331.25 207.66 L331.50 216.83 L331.75 225.93 L332.00 234.94 L332.25 243.82 L332.50 252.51 L332.75 261.00 L333.00 269.24 L333.25 277.19 L333.50 284.82 L333.75 292.11 L334.00 299.01 L334.25 305.50 L334.50 311.55 L334.75 317.13 L335.00 322.22 L335.25 326.80 L335.50 330.85 L335.75 334.35 L336.00 337.29 L336.25 339.64 L336.50 341.42 L336.75 342.59 L337.00 343.17 L337.25 343.15 L337.50 342.52 L337.75 341.30 L338.00 339.48 L338.25 337.07 L338.50 334.09 L338.75 330.55 L339.00 326.45 L339.25 321.83 L339.50 316.70 L339.75 311.08 L340.00 304.99 L340.25 298.47 L340.50 291.54 L340.75 284.23 L341.00 276.56 L341.25 268.59 L341.50 260.33 L341.75 251.83 L342.00 243.11 L342.25 234.23 L342.50 225.21 L342.75 216.10 L343.00 206.93 L343.25 197.74 L343.50 188.58 L343.75 179.48 L344.00 170.48 L344.25 161.63 L344.50 152.95 L344.75 144.48 L345.00 136.27 L345.25 128.35 L345.50 120.75 L345.75 113.50 L346.00 106.64 L346.25 100.20 L346.50 94.19 L346.75 88.66 L347.00 83.62 L347.25 79.09 L347.50 75.09 L347.75 71.65 L348.00 68.77 L348.25 66.47 L348.50 64.76 L348.75 63.64 L349.00 63.12 L349.25 63.21 L349.50 63.89 L349.75 65.18 L350.00 67.06 L350.25 69.52 L350.50 72.56 L350.75 76.16 L351.00 80.30 L351.25 84.98 L351.50 90.16 L351.75 95.83 L352.00 101.96 L352.25 108.52 L352.50 115.50 L352.75 122.84 L353.00 130.54 L353.25 138.55 L353.50 146.83 L353.75 155.36 L354.00 164.09 L354.25 172.99 L354.50 182.02 L354.75 191.14 L355.00 200.31 L355.25 209.50 L355.50 218.65 L355.75 227.75 L356.00 236.73 L356.25 245.57 L356.50 254.23 L356.75 262.67 L357.00 270.85 L357.25 278.74 L357.50 286.31 L357.75 293.52 L358.00 300.34 L358.25 306.74 L358.50 312.70 L358.75 318.19 L359.00 323.18 L359.25 327.65 L359.50 331.59 L359.75 334.98 L360.00 337.80 L360.25 340.05 L360.50 341.70 L360.75 342.76 L361.00 343.22 L361.25 343.07 L361.50 342.32 L361.75 340.98 L362.00 339.04 L362.25 336.52 L362.50 333.43 L362.75 329.77 L363.00 325.57 L363.25 320.85 L363.50 315.61 L363.75 309.90 L364.00 303.72 L364.25 297.12 L364.50 290.11 L364.75 282.72 L365.00 274.99 L365.25 266.96 L365.50 258.65 L365.75 250.10 L366.00 241.35 L366.25 232.43 L366.50 223.39 L366.75 214.26 L367.00 205.09 L367.25 195.91 L367.50 186.75 L367.75 177.67 L368.00 168.70 L368.25 159.87 L368.50 151.24 L368.75 142.82 L369.00 134.67 L369.25 126.80 L369.50 119.27 L369.75 112.10 L370.00 105.32 L370.25 98.96 L370.50 93.05 L370.75 87.61 L371.00 82.67 L371.25 78.25 L371.50 74.36 L371.75 71.03 L372.00 68.27 L372.25 66.08 L372.50 64.49 L372.75 63.49 L373.00 63.09 L373.25 63.30 L373.50 64.10 L373.75 65.51 L374.00 67.50 L374.25 70.08 L374.50 73.23 L374.75 76.94 L375.00 81.20 L375.25 85.98 L375.50 91.26 L375.75 97.02 L376.00 103.24 L376.25 109.89 L376.50 116.94 L376.75 124.36 L377.00 132.12 L377.25 140.18 L377.50 148.52 L377.75 157.09 L378.00 165.86 L378.25 174.79 L378.50 183.84 L378.75 192.97 L379.00 202.15 L379.25 211.33 L379.50 220.48 L379.75 229.55 L380.00 238.51 L380.25 247.32 L380.50 255.94 L380.75 264.33 L381.00 272.45 L381.25 280.28 L381.50 287.78 L381.75 294.92 L382.00 301.65 L382.25 307.97 L382.50 313.84 L382.75 319.23 L383.00 324.12 L383.25 328.49 L383.50 332.32 L383.75 335.59 L384.00 338.30 L384.25 340.42 L384.50 341.96 L384.75 342.90 L385.00 343.23 L385.25 342.97 L385.50 342.10 L385.75 340.64 L386.00 338.59 L386.25 335.95 L386.50 332.74 L386.75 328.97 L387.00 324.67 L387.25 319.84 L387.50 314.51 L387.75 308.70 L388.00 302.44 L388.25 295.75 L388.50 288.66 L388.75 281.20 L389.00 273.41 L389.25 265.32 L389.50 256.96 L389.75 248.36 L390.00 239.58 L390.25 230.63 L390.50 221.57 L390.75 212.43 L391.00 203.25 L391.25 194.07 L391.50 184.93 L391.75 175.87 L392.00 166.92 L392.25 158.13 L392.50 149.53 L392.75 141.17 L393.00 133.07 L393.25 125.27 L393.50 117.81 L393.75 110.71 L394.00 104.01 L394.25 97.74 L394.50 91.92 L394.75 86.58 L395.00 81.74 L395.25 77.43 L395.50 73.65 L395.75 70.43 L396.00 67.78 L396.25 65.72 L396.50 64.24 L396.75 63.36 L397.00 63.08 L397.25 63.41 L397.50 64.34 L397.75 65.86 L398.00 67.97 L398.25 70.67 L398.50 73.93 L398.75 77.75 L399.00 82.11 L399.25 86.99 L399.50 92.37 L399.75 98.23 L400.00 104.53 L400.25 111.27 L400.50 118.39 L400.75 125.88 L401.00 133.71 L401.25 141.83 L401.50 150.21 L401.75 158.83 L402.00 167.63 L402.25 176.59 L402.50 185.66 L402.75 194.80 L403.00 203.99 L403.25 213.17 L403.50 222.30 L403.75 231.35 L404.00 240.29 L404.25 249.06 L404.50 257.63 L404.75 265.97 L405.00 274.04 L405.25 281.81 L405.50 289.24 L405.75 296.30 L406.00 302.95 L406.25 309.18 L406.50 314.95 L406.75 320.24 L407.00 325.03 L407.25 329.30 L407.50 333.02 L407.75 336.18 L408.00 338.77 L408.25 340.78 L408.50 342.20 L408.75 343.01 L409.00 343.23 L409.25 342.84 L409.50 341.86 L409.75 340.28 L410.00 338.10 L410.25 335.35 L410.50 332.03 L410.75 328.16 L411.00 323.74 L411.25 318.81 L411.50 313.38 L411.75 307.48 L412.00 301.13 L412.25 294.36 L412.50 287.19 L412.75 279.67 L413.00 271.81 L413.25 263.66 L413.50 255.25 L413.75 246.62 L414.00 237.80 L414.25 228.83 L414.50 219.75 L414.75 210.60 L415.00 201.41 L415.25 192.24 L415.50 183.11 L415.75 174.07 L416.00 165.15 L416.25 156.39 L416.50 147.84 L416.75 139.53 L417.00 131.48 L417.25 123.75 L417.50 116.36 L417.75 109.34 L418.00 102.72 L418.25 96.54 L418.50 90.82 L418.75 85.57 L419.00 80.84 L419.25 76.63 L419.50 72.96 L419.75 69.85 L420.00 67.32 L420.25 65.37 L420.50 64.02 L420.75 63.26 L421.00 63.10 L421.25 63.55 L421.50 64.59 L421.75 66.23 L422.00 68.47 L422.25 71.28 L422.50 74.65 L422.75 78.58 L423.00 83.05 L423.25 88.03 L423.50 93.51 L423.75 99.45 L424.00 105.85 L424.25 112.66 L424.50 119.86 L424.75 127.42 L425.00 135.31 L425.25 143.49 L425.50 151.92 L425.75 160.57 L426.00 169.41 L426.25 178.39 L426.50 187.48 L426.75 196.64 L427.00 205.82 L427.25 215.00 L427.50 224.12 L427.75 233.15 L428.00 242.05 L428.25 250.79 L428.50 259.32 L428.75 267.61 L429.00 275.62 L429.25 283.32 L429.50 290.68 L429.75 297.66 L430.00 304.23 L430.25 310.37 L430.50 316.05 L430.75 321.24 L431.00 325.93 L431.25 330.08 L431.50 333.69 L431.75 336.74 L432.00 339.22 L432.25 341.11 L432.50 342.41 L432.75 343.10 L433.00 343.20 L433.25 342.70 L433.50 341.59 L433.75 339.89 L434.00 337.60 L434.25 334.73 L434.50 331.30 L434.75 327.32 L435.00 322.80 L435.25 317.77 L435.50 312.24 L435.75 306.25 L436.00 299.81 L436.25 292.96 L436.50 285.72 L436.75 278.12 L437.00 270.21 L437.25 262.00 L437.50 253.54 L437.75 244.87 L438.00 236.02 L438.25 227.02 L438.50 217.92 L438.75 208.76 L439.00 199.58 L439.25 190.41 L439.50 181.29 L439.75 172.27 L440.00 163.38 L440.25 154.67 L440.50 146.16 L440.75 137.89 L441.00 129.91 L441.25 122.24 L441.50 114.92 L441.75 107.98 L442.00 101.45 L442.25 95.36 L442.50 89.73 L442.75 84.59 L443.00 79.95 L443.25 75.85 L443.50 72.29 L443.75 69.30 L444.00 66.88 L444.25 65.05 L444.50 63.82 L444.75 63.18 L445.00 63.14 L445.25 63.71 L445.50 64.87 L445.75 66.63 L446.00 68.98 L446.25 71.91 L446.50 75.39 L446.75 79.43 L447.00 84.00 L447.25 89.08 L447.50 94.66 L447.75 100.70 L448.00 107.18 L448.25 114.07 L448.50 121.35 L448.75 128.97 L449.00 136.92 L449.25 145.15 L449.50 153.63 L449.75 162.33 L450.00 171.20 L450.25 180.20 L450.50 189.31 L450.75 198.48 L451.00 207.66 L451.25 216.83 L451.50 225.93 L451.75 234.94 L452.00 243.82 L452.25 252.51 L452.50 261.00 L452.75 269.24 L453.00 277.19 L453.25 284.82 L453.50 292.11 L453.75 299.01 L454.00 305.50 L454.25 311.55 L454.50 317.13 L454.75 322.22 L455.00 326.80 L455.25 330.85 L455.50 334.35 L455.75 337.29 L456.00 339.64 L456.25 341.42 L456.50 342.59 L456.75 343.17 L457.00 343.15 L457.25 342.52 L457.50 341.30 L457.75 339.48 L458.00 337.07 L458.25 334.09 L458.50 330.55 L458.75 326.45 L459.00 321.83 L459.25 316.70 L459.50 311.08 L459.75 304.99 L460.00 298.47 L460.25 291.54 L460.50 284.23 L460.75 276.56 L461.00 268.59 L461.25 260.33 L461.50 251.83 L461.75 243.11 L462.00 234.23 L462.25 225.21 L462.50 216.10 L462.75 206.93 L463.00 197.74 L463.25 188.58 L463.50 179.48 L463.75 170.48 L464.00 161.63 L464.25 152.95 L464.50 144.48 L464.75 136.27 L465.00 128.35 L465.25 120.75 L465.50 113.50 L465.75 106.64 L466.00 100.20 L466.25 94.19 L466.50 88.66 L466.75 83.62 L467.00 79.09 L467.25 75.09 L467.50 71.65 L467.75 68.77 L468.00 66.47 L468.25 64.76 L468.50 63.64 L468.75 63.12 L469.00 63.21 L469.25 63.89 L469.50 65.18 L469.75 67.06 L470.00 69.52 L470.25 72.56 L470.50 76.16 L470.75 80.30 L471.00 84.98 L471.25 90.16 L471.50 95.83 L471.75 101.96 L472.00 108.52 L472.25 115.50 L472.50 122.84 L472.75 130.54 L473.00 138.55 L473.25 146.83 L473.50 155.36 L473.75 164.09 L474.00 172.99 L474.25 182.02 L474.50 191.14 L474.75 200.31 L475.00 209.50 L475.25 218.65 L475.50 227.75 L475.75 236.73 L476.00 245.57 L476.25 254.23 L476.50 262.67 L476.75 270.85 L477.00 278.74 L477.25 286.31 L477.50 293.52 L477.75 300.34 L478.00 306.74 L478.25 312.70 L478.50 318.19 L478.75 323.18 L479.00 327.65 L479.25 331.59 L479.50 334.98 L479.75 337.80 L480.00 340.05 L480.25 341.70 L480.50 342.76 L480.75 343.22 L481.00 343.07 L481.25 342.32 L481.50 340.98 L481.75 339.04 L482.00 336.52 L482.25 333.43 L482.50 329.77 L482.75 325.57 L483.00 320.85 L483.25 315.61 L483.50 309.90 L483.75 303.72 L484.00 297.12 L484.25 290.11 L484.50 282.72 L484.75 274.99 L485.00 266.96 L485.25 258.65 L485.50 250.10 L485.75 241.35 L486.00 232.43 L486.25 223.39 L486.50 214.26 L486.75 205.09 L487.00 195.91 L487.25 186.75 L487.50 177.67 L487.75 168.70 L488.00 159.87 L488.25 151.24 L488.50 142.82 L488.75 134.67 L489.00 126.80 L489.25 119.27 L489.50 112.10 L489.75 105.32 L490.00 98.96 L490.25 93.05 L490.50 87.61 L490.75 82.67 L491.00 78.25 L491.25 74.36 L491.50 71.03 L491.75 68.27 L492.00 66.08 L492.25 64.49 L492.50 63.49 L492.75 63.09 L493.00 63.30 L493.25 64.10 L493.50 65.51 L493.75 67.50 L494.00 70.08 L494.25 73.23 L494.50 76.94 L494.75 81.20 L495.00 85.98 L495.25 91.26 L495.50 97.02 L495.75 103.24 L496.00 109.89 L496.25 116.94 L496.50 124.36 L496.75 132.12 L497.00 140.18 L497.25 148.52 L497.50 157.09 L497.75 165.86 L498.00 174.79 L498.25 183.84 L498.50 192.97 L498.75 202.15 L499.00 211.33 L499.25 220.48 L499.50 229.55 L499.75 238.51 L500.00 247.32 L500.25 255.94 L500.50 264.33 L500.75 272.45 L501.00 280.28 L501.25 287.78 L501.50 294.92 L501.75 301.65 L502.00 307.97 L502.25 313.84 L502.50 319.23 L502.75 324.12 L503.00 328.49 L503.25 332.32 L503.50 335.59 L503.75 338.30 L504.00 340.42 L504.25 341.96 L504.50 342.90 L504.75 343.23 L505.00 342.97 L505.25 342.10 L505.50 340.64 L505.75 338.59 L506.00 335.95 L506.25 332.74 L506.50 328.97 L506.75 324.67 L507.00 319.84 L507.25 314.51 L507.50 308.70 L507.75 302.44 L508.00 295.75 L508.25 288.66 L508.50 281.20 L508.75 273.41 L509.00 265.32 L509.25 256.96 L509.50 248.36 L509.75 239.58 L510.00 230.63 L510.25 221.57 L510.50 212.43 L510.75 203.25 L511.00 194.07 L511.25 184.93 L511.50 175.87 L511.75 166.92 L512.00 158.13 L512.25 149.53 L512.50 141.17 L512.75 133.07 L513.00 125.27 L513.25 117.81 L513.50 110.71 L513.75 104.01 L514.00 97.74 L514.25 91.92 L514.50 86.58 L514.75 81.74 L515.00 77.43 L515.25 73.65 L515.50 70.43 L515.75 67.78 L516.00 65.72 L516.25 64.24 L516.50 63.36 L516.75 63.08 L517.00 63.41 L517.25 64.34 L517.50 65.86 L517.75 67.97 L518.00 70.67 L518.25 73.93 L518.50 77.75 L518.75 82.11 L519.00 86.99 L519.25 92.37 L519.50 98.23 L519.75 104.53 L520.00 111.27 L520.25 118.39 L520.50 125.88 L520.75 133.71 L521.00 141.83 L521.25 150.21 L521.50 158.83 L521.75 167.63 L522.00 176.59 L522.25 185.66 L522.50 194.80 L522.75 203.99 L523.00 213.17 L523.25 222.30 L523.50 231.35 L523.75 240.29 L524.00 249.06 L524.25 257.63 L524.50 265.97 L524.75 274.04 L525.00 281.81 L525.25 289.24 L525.50 296.30 L525.75 302.95 L526.00 309.18 L526.25 314.95 L526.50 320.24 L526.75 325.03 L527.00 329.30 L527.25 333.02 L527.50 336.18 L527.75 338.77 L528.00 340.78 L528.25 342.20 L528.50 343.01 L528.75 343.23 L529.00 342.84 L529.25 341.86 L529.50 340.28 L529.75 338.10 L530.00 335.35 L530.25 332.03 L530.50 328.16 L530.75 323.74 L531.00 318.81 L531.25 313.38 L531.50 307.48 L531.75 301.13 L532.00 294.36 L532.25 287.19 L532.50 279.67 L532.75 271.81 L533.00 263.66 L533.25 255.25 L533.50 246.62 L533.75 237.80 L534.00 228.83 L534.25 219.75 L534.50 210.60 L534.75 201.41 L535.00 192.24 L535.25 183.11 L535.50 174.07 L535.75 165.15 L536.00 156.39 L536.25 147.84 L536.50 139.53 L536.75 131.48 L537.00 123.75 L537.25 116.36 L537.50 109.34 L537.75 102.72 L538.00 96.54 L538.25 90.82 L538.50 85.57 L538.75 80.84 L539.00 76.63 L539.25 72.96 L539.50 69.85 L539.75 67.32 L540.00 65.37 L540.25 64.02 L540.50 63.26 L540.75 63.10 L541.00 63.55 L541.25 64.59 L541.50 66.23 L541.75 68.47 L542.00 71.28 L542.25 74.65 L542.50 78.58 L542.75 83.05 L543.00 88.03 L543.25 93.51 L543.50 99.45 L543.75 105.85 L544.00 112.66 L544.25 119.86 L544.50 127.42 L544.75 135.31 L545.00 143.49 L545.25 151.92 L545.50 160.57 L545.75 169.41 L546.00 178.39 L546.25 187.48 L546.50 196.64 L546.75 205.82 L547.00 215.00 L547.25 224.12 L547.50 233.15 L547.75 242.05 L548.00 250.79 L548.25 259.32 L548.50 267.61 L548.75 275.62 L549.00 283.32 L549.25 290.68 L549.50 297.66 L549.75 304.23 L550.00 310.37 L550.25 316.05 L550.50 321.24 L550.75 325.93 L551.00 330.08 L551.25 333.69 L551.50 336.74 L551.75 339.22 L552.00 341.11 L552.25 342.41 L552.50 343.10 L552.75 343.20 L553.00 342.70 L553.25 341.59 L553.50 339.89 L553.75 337.60 L554.00 334.73 L554.25 331.30 L554.50 327.32 L554.75 322.80 L555.00 317.77 L555.25 312.24 L555.50 306.25 L555.75 299.81 L556.00 292.96 L556.25 285.72 L556.50 278.12 L556.75 270.21 L557.00 262.00 L557.25 253.54 L557.50 244.87 L557.75 236.02 L558.00 227.02 L558.25 217.92 L558.50 208.76 L558.75 199.58 L559.00 190.41 L559.25 181.29 L559.50 172.27 L559.75 163.38 L560.00 154.67 L560.25 146.16 L560.50 137.89 L560.75 129.91 L561.00 122.24 L561.25 114.92 L561.50 107.98 L561.75 101.45 L562.00 95.36 L562.25 89.73 L562.50 84.59 L562.75 79.95 L563.00 75.85 L563.25 72.29 L563.50 69.30 L563.75 66.88 L564.00 65.05 L564.25 63.82 L564.50 63.18 L564.75 63.14 L565.00 63.71 L565.25 64.87 L565.50 66.63 L565.75 68.98 L566.00 71.91 L566.25 75.39 L566.50 79.43 L566.75 84.00 L567.00 89.08 L567.25 94.66 L567.50 100.70 L567.75 107.18 L568.00 114.07 L568.25 121.35 L568.50 128.97 L568.75 136.92 L569.00 145.15 L569.25 153.63 L569.50 162.33 L569.75 171.20 L570.00 180.20 L570.25 189.31 L570.50 198.48 L570.75 207.66 L571.00 216.83 L571.25 225.93 L571.50 234.94 L571.75 243.82 L572.00 252.51 L572.25 261.00 L572.50 269.24 L572.75 277.19 L573.00 284.82 L573.25 292.11 L573.50 299.01 L573.75 305.50 L574.00 311.55 L574.25 317.13 L574.50 322.22 L574.75 326.80 L575.00 330.85 L575.25 334.35 L575.50 337.29 L575.75 339.64 L576.00 341.42 L576.25 342.59 L576.50 343.17 L576.75 343.15 L577.00 342.52 L577.25 341.30 L577.50 339.48 L577.75 337.07 L578.00 334.09 L578.25 330.55 L578.50 326.45 L578.75 321.83 L579.00 316.70 L579.25 311.08 L579.50 304.99 L579.75 298.47 L580.00 291.54 L580.25 284.23 L580.50 276.56 L580.75 268.59 L581.00 260.33 L581.25 251.83 L581.50 243.11 L581.75 234.23 L582.00 225.21 L582.25 216.10 L582.50 206.93 L582.75 197.74 L583.00 188.58 L583.25 179.48 L583.50 170.48 L583.75 161.63 L584.00 152.95 L584.25 144.48 L584.50 136.27 L584.75 128.35 L585.00 120.75 L585.25 113.50 L585.50 106.64 L585.75 100.20 L586.00 94.19 L586.25 88.66 L586.50 83.62 L586.75 79.09 L587.00 75.09 L587.25 71.65 L587.50 68.77 L587.75 66.47 L588.00 64.76 L588.25 63.64 L588.50 63.12 L588.75 63.21 L589.00 63.89 L589.25 65.18 L589.50 67.06 L589.75 69.52 L590.00 72.56 L590.25 76.16 L590.50 80.30 L590.75 84.98 L591.00 90.16 L591.25 95.83 L591.50 101.96 L591.75 108.52 L592.00 115.50 L592.25 122.84 L592.50 130.54 L592.75 138.55 L593.00 146.83 L593.25 155.36 L593.50 164.09 L593.75 172.99 L594.00 182.02 L594.25 191.14 L594.50 200.31 L594.75 209.50 L595.00 218.65 L595.25 227.75 L595.50 236.73 L595.75 245.57 L596.00 254.23 L596.25 262.67 L596.50 270.85 L596.75 278.74 L597.00 286.31 L597.25 293.52 L597.50 300.34 L597.75 306.74 L598.00 312.70 L598.25 318.19 L598.50 323.18 L598.75 327.65 L599.00 331.59 L599.25 334.98 L599.50 337.80 L599.75 340.05 L600.00 341.70 L600.25 342.76 L600.50 343.22 L600.75 343.07 L601.00 342.32 L601.25 340.98 L601.50 339.04" stroke="#ffff00" stroke-dasharray="14.60 13.47" stroke-dashoffset="2.54"/>
<path d="M73 229.10 L389.5 229.10 L391.0 190.19 L601.50 190.19" stroke="#ff00ff" stroke-linejoin="miter"/>
</g>
<g font-family="Liberation Serif" font-size="21.8" fill="#262626" stroke="#262626"><text transform="translate(73.5 517.2) scale(1 1.1)" text-anchor="middle">5.97</text><text transform="translate(139.5 517.2) scale(1 1.1)" text-anchor="middle">5.98</text><text transform="translate(205.5 517.2) scale(1 1.1)" text-anchor="middle">5.99</text><text transform="translate(271.5 517.2) scale(1 1.1)" text-anchor="middle">6</text><text transform="translate(337.5 517.2) scale(1 1.1)" text-anchor="middle">6.01</text><text transform="translate(403.5 517.2) scale(1 1.1)" text-anchor="middle">6.02</text><text transform="translate(469.5 517.2) scale(1 1.1)" text-anchor="middle">6.03</text><text transform="translate(535.5 517.2) scale(1 1.1)" text-anchor="middle">6.04</text><text transform="translate(601.5 517.2) scale(1 1.1)" text-anchor="middle">6.05</text><text transform="translate(667.5 517.2) scale(1 1.1)" text-anchor="middle">6.06</text><text transform="translate(65.6 29.5) scale(1 1.1)" text-anchor="end">80</text><text transform="translate(65.6 81.4) scale(1 1.1)" text-anchor="end">60</text><text transform="translate(65.6 133.2) scale(1 1.1)" text-anchor="end">40</text><text transform="translate(65.6 185.1) scale(1 1.1)" text-anchor="end">20</text><text transform="translate(65.6 237.0) scale(1 1.1)" text-anchor="end">0</text><text transform="translate(65.6 288.9) scale(1 1.1)" text-anchor="end">-20</text><text transform="translate(65.6 340.8) scale(1 1.1)" text-anchor="end">-40</text><text transform="translate(65.6 392.6) scale(1 1.1)" text-anchor="end">-60</text><text transform="translate(65.6 444.5) scale(1 1.1)" text-anchor="end">-80</text><text transform="translate(65.6 496.4) scale(1 1.1)" text-anchor="end">-100</text></g>
<text x="73.3" y="392.7" font-family="Liberation Serif" font-size="21.8" fill="#000" stroke="#000">Offset=0</text>
<text x="370" y="14.2" font-family="Liberation Serif" font-weight="bold" font-size="21.8" text-anchor="middle" fill="#000" stroke="#000">AC Current (A) and Fault Location Signal (km)</text>
<text x="370" y="544" font-family="Liberation Serif" font-weight="bold" font-size="21.8" text-anchor="middle" fill="#262626" stroke="#262626">Time (seconds)</text>
<text transform="translate(15.2 255.1) rotate(-90)" x="0" y="0" font-family="Liberation Serif" font-weight="bold" font-size="22.2" text-anchor="middle" fill="#262626" stroke="#262626">Current (A)</text>
<rect x="437.6" y="35.8" width="215.19999999999993" height="108.2" fill="#fff" stroke="#262626" stroke-width="1.3"/>
<path d="M442.3 51H494.2" stroke="#ff0000" stroke-width="4" stroke-dasharray="14 2.9 7.9 2.8"/>
<text x="501.6" y="58.9" font-family="Liberation Serif" font-size="21.8" fill="#000" stroke="#000">Current of PH A</text>
<path d="M442.3 77H494.2" stroke="#0000ff" stroke-width="4" stroke-dasharray="3.9 2.93"/>
<text x="501.6" y="84.9" font-family="Liberation Serif" font-size="21.8" fill="#000" stroke="#000">Current of PH B</text>
<path d="M442.3 102.8H494.2" stroke="#ffff00" stroke-width="4" stroke-dasharray="14.4 13.3"/>
<text x="501.6" y="110.7" font-family="Liberation Serif" font-size="21.8" fill="#000" stroke="#000">Current of PH C</text>
<path d="M442.3 128.9H497.7" stroke="#ff00ff" stroke-width="4"/>
<text x="501.6" y="136.8" font-family="Liberation Serif" font-size="21.8" fill="#000" stroke="#000">Fault Location</text>
</svg>
</body></html>
